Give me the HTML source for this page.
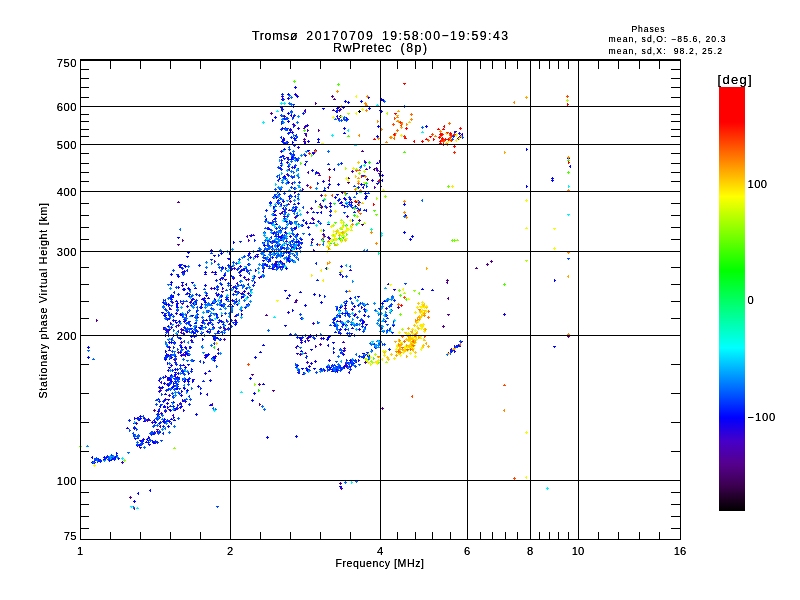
<!DOCTYPE html>
<html><head><meta charset="utf-8"><title>Ionogram</title>
<style>
html,body{margin:0;padding:0;background:#fff;}
body{width:800px;height:600px;overflow:hidden;font-family:"Liberation Sans",sans-serif;}
svg{display:block;}
text{font-family:"Liberation Sans",sans-serif;fill:#000;}
.ln{stroke:#000;stroke-width:1;fill:none;shape-rendering:crispEdges;}
.pt{stroke-width:1;fill:none;shape-rendering:crispEdges;}
</style></head><body>
<svg width="800" height="600" viewBox="0 0 800 600">
<defs><linearGradient id="cb" x1="0" y1="0" x2="0" y2="1">
<stop offset="0" stop-color="#ff0000"/>
<stop offset="0.083" stop-color="#ff0000"/>
<stop offset="0.258" stop-color="#ffff00"/>
<stop offset="0.433" stop-color="#00ff00"/>
<stop offset="0.615" stop-color="#00ffff"/>
<stop offset="0.78" stop-color="#0000ff"/>
<stop offset="0.835" stop-color="#4600c8"/>
<stop offset="0.89" stop-color="#55008c"/>
<stop offset="0.94" stop-color="#3c0050"/>
<stop offset="0.975" stop-color="#19001e"/>
<stop offset="1" stop-color="#000000"/>
</linearGradient><filter id="nf" x="0" y="0" width="800" height="600" filterUnits="userSpaceOnUse"><feComponentTransfer><feFuncA type="linear" slope="1.35" intercept="0"/></feComponentTransfer></filter></defs>
<rect x="0" y="0" width="800" height="600" fill="#fff"/>
<path class="pt" stroke="#000000" d="M358 111.5h3M359.5 110v3"/>
<path class="pt" stroke="#3f0058" d="M328 169.5h3M329.5 168v3M366 179.5h3M367.5 178v3M361 224.5h3M362.5 225v1M374.5 168v3M373 169.5h1M332 110.5h3M333.5 109v1"/>
<path class="pt" stroke="#4a0073" d="M347 182.5h3M348.5 181v3M358 220.5h3M359.5 219v3M340.5 108v3M339 109.5h1M337 107.5h3M338.5 106v3M397 307.5h3M398.5 306v3"/>
<path class="pt" stroke="#55008d" d="M129 497.5h3M130.5 496v3M134.5 507v3M133 508.5h1M96.5 319v3M97 320.5h1M156 429.5h3M157.5 430v1M168 409.5h3M169.5 410v1M212.5 403v3M211 404.5h1M153 410.5h3M154.5 409v3M191.5 300v3M190 301.5h1M196 314.5h3M197.5 313v3M177 202.5h3M178.5 201v1M182.5 239v3M183 240.5h1M177 244.5h3M178.5 245v1M251 374.5h3M252.5 375v1M258 384.5h3M259.5 383v3M259.5 403v3M260 404.5h1M295 300.5h3M296.5 299v3M265 315.5h3M266.5 314v1M272 390.5h3M273.5 391v1M276 267.5h3M277.5 266v3M295 95.5h3M296.5 94v1M270 113.5h3M271.5 112v3M329.5 179v3M328 180.5h1M329 211.5h3M330.5 210v3M325 207.5h3M326.5 208v1M315.5 102v3M316 103.5h1M318.5 129v3M319 130.5h1M331 96.5h3M332.5 95v3M333 99.5h3M334.5 98v1M361 151.5h3M362.5 150v1M490 261.5h3M491.5 260v3M486 264.5h3M487.5 263v3M475 268.5h3M476.5 267v1M567 336.5h3M568.5 335v3M446 280.5h3M447.5 279v3M447.5 281v3M446 282.5h1M448.5 297v3M447 298.5h1M447 314.5h3M448.5 315v1M442 326.5h3M443.5 325v3M381 408.5h3M382.5 407v3M339 483.5h3M340.5 482v3M340 488.5h3M341.5 487v3"/>
<path class="pt" stroke="#4f00a5" d="M112 457.5h3M113.5 456v3M143 418.5h3M144.5 417v3M148 420.5h3M149.5 419v1M133 436.5h3M134.5 435v3M135 423.5h3M136.5 422v3M159 388.5h3M160.5 387v3M173 359.5h3M174.5 358v3M179 403.5h3M180.5 402v3M174 359.5h3M175.5 358v3M169 355.5h3M170.5 354v3M177 352.5h3M178.5 351v3M177 325.5h3M178.5 324v3M187.5 330v3M186 331.5h1M181.5 331v3M180 332.5h1M176 335.5h3M177.5 334v3M163.5 327v3M164 328.5h1M196.5 319v3M195 320.5h1M274 264.5h3M275.5 265v1M219 327.5h3M220.5 326v3M247 279.5h3M248.5 278v3M218.5 348v3M217 349.5h1M286 259.5h3M287.5 260v1M275.5 262v3M274 263.5h1M272.5 220v3M273 221.5h1M289.5 168v3M288 169.5h1M290 249.5h3M291.5 248v1M289 201.5h3M290.5 200v3M283 116.5h3M284.5 115v3M303 141.5h3M304.5 140v3M304.5 127v3M303 128.5h1M303 139.5h3M304.5 138v3M305.5 109v3M304 110.5h1M320 207.5h3M321.5 206v3M322 234.5h3M323.5 233v3M317 173.5h3M318.5 172v1M320 195.5h3M321.5 194v3M320 206.5h3M321.5 205v3M310 208.5h3M311.5 207v3M347 178.5h3M348.5 177v3M357 204.5h3M358.5 203v3M375 168.5h3M376.5 167v3M378 173.5h3M379.5 174v1M338 110.5h3M339.5 109v3M454 131.5h3M455.5 132v1M358 356.5h3M359.5 355v3M306 338.5h3M307.5 337v3M319 344.5h3M320.5 343v3"/>
<path class="pt" stroke="#4900be" d="M115.5 457v3M114 458.5h1M138 419.5h3M139.5 418v3M146 420.5h3M147.5 419v3M186 353.5h3M187.5 352v3M173 409.5h3M174.5 408v3M185 353.5h3M186.5 352v3M159 390.5h3M160.5 389v3M182 354.5h3M183.5 353v3M164 411.5h3M165.5 410v3M160.5 425v3M159 426.5h1M181 272.5h3M182.5 271v3M170 327.5h3M171.5 326v3M177.5 302v3M178 303.5h1M192 299.5h3M193.5 298v1M169 309.5h3M170.5 308v1M181 303.5h3M182.5 304v1M182 333.5h3M183.5 332v1M201 322.5h3M202.5 321v3M210 288.5h3M211.5 287v3M286 249.5h3M287.5 248v1M246 271.5h3M247.5 272v1M241 293.5h3M242.5 292v3M233 268.5h3M234.5 267v3M281.5 252v3M282 253.5h1M217.5 294v3M216 295.5h1M204 355.5h3M205.5 354v3M223 339.5h3M224.5 338v3M224 329.5h3M225.5 330v1M229 304.5h3M230.5 303v3M221 291.5h3M222.5 292v1M248.5 239v3M249 240.5h1M287 204.5h3M288.5 203v1M284.5 263v3M283 264.5h1M279 213.5h3M280.5 214v1M297 245.5h3M298.5 244v3M279 267.5h3M280.5 266v3M286 174.5h3M287.5 173v3M280 160.5h3M281.5 159v3M283 211.5h3M284.5 210v3M295 236.5h3M296.5 237v1M294 228.5h3M295.5 227v3M287 259.5h3M288.5 258v3M294 217.5h3M295.5 216v3M293.5 105v3M292 106.5h1M306.5 134v3M305 135.5h1M307.5 129v3M308 130.5h1M302.5 188v3M303 189.5h1M306 185.5h3M307.5 184v3M312 219.5h3M313.5 218v3M311 218.5h3M312.5 217v1M314 150.5h3M315.5 149v3M318 175.5h3M319.5 174v1M320.5 203v3M319 204.5h1M350 202.5h3M351.5 201v3M365 169.5h3M366.5 168v1M351 171.5h3M352.5 170v3M374.5 186v3M375 187.5h1M379 171.5h3M380.5 170v1M380.5 185v3M381 186.5h1M376 170.5h3M377.5 169v3M337 118.5h3M338.5 119v1M457 138.5h3M458.5 137v3M328 367.5h3M329.5 366v3M297 372.5h3M298.5 371v3M364 362.5h3M365.5 361v3M369.5 354v3M368 355.5h1M345.5 363v3M346 364.5h1M343 366.5h3M344.5 365v1M363 355.5h3M364.5 354v3M340 352.5h3M341.5 351v3M343 348.5h3M344.5 347v3M309 335.5h3M310.5 334v3M344 308.5h3M345.5 307v3M339 333.5h3M340.5 332v3M354 314.5h3M355.5 313v3M299 354.5h3M300.5 353v3M304 353.5h3M305.5 352v1M450 349.5h3M451.5 348v3M294 302.5h3M295.5 301v1"/>
<path class="pt" stroke="#3600d5" d="M114 457.5h3M115.5 458v1M93 462.5h3M94.5 461v3M121 462.5h3M122.5 461v3M161.5 381v3M160 382.5h1M173 376.5h3M174.5 375v1M173.5 414v3M172 415.5h1M160 413.5h3M161.5 412v3M176 408.5h3M177.5 407v3M167 380.5h3M168.5 379v1M167 355.5h3M168.5 354v3M153 443.5h3M154.5 442v1M190 340.5h3M191.5 339v3M164 399.5h3M165.5 398v3M184 401.5h3M185.5 400v3M181.5 405v3M182 406.5h1M177.5 404v3M178 405.5h1M166 384.5h3M167.5 383v3M153 432.5h3M154.5 431v3M163 421.5h3M164.5 420v3M187.5 350v3M188 351.5h1M168 395.5h3M169.5 394v3M180 342.5h3M181.5 341v3M138 445.5h3M139.5 446v1M156 431.5h3M157.5 430v3M151 422.5h3M152.5 421v3M186.5 314v3M185 315.5h1M182 330.5h3M183.5 329v1M166 330.5h3M167.5 329v3M181 285.5h3M182.5 284v3M172.5 301v3M173 302.5h1M190 305.5h3M191.5 304v3M170 301.5h3M171.5 300v3M168.5 331v3M167 332.5h1M194 329.5h3M195.5 330v1M170.5 322v3M171 323.5h1M180 329.5h3M181.5 328v3M196 317.5h3M197.5 316v3M245 279.5h3M246.5 280v1M207 323.5h3M208.5 322v3M272 269.5h3M273.5 268v1M246.5 304v3M247 305.5h1M228 324.5h3M229.5 323v1M224.5 324v3M225 325.5h1M236.5 300v3M237 301.5h1M230 269.5h3M231.5 270v1M240 310.5h3M241.5 309v3M260 276.5h3M261.5 275v3M210.5 330v3M209 331.5h1M226.5 319v3M227 320.5h1M212 327.5h3M213.5 326v3M232 287.5h3M233.5 286v3M221 335.5h3M222.5 334v1M234 320.5h3M235.5 319v3M227 328.5h3M228.5 327v3M234 316.5h3M235.5 315v1M237.5 282v3M236 283.5h1M232 278.5h3M233.5 277v3M258 277.5h3M259.5 278v1M224 279.5h3M225.5 280v1M234 291.5h3M235.5 290v3M272.5 245v3M271 246.5h1M247 293.5h3M248.5 292v3M221.5 314v3M222 315.5h1M231 300.5h3M232.5 299v3M223 328.5h3M224.5 327v1M226 270.5h3M227.5 271v1M247.5 235v3M246 236.5h1M227 258.5h3M228.5 259v1M249 235.5h3M250.5 236v1M211 272.5h3M212.5 271v1M252 235.5h3M253.5 234v1M214.5 260v3M215 261.5h1M285 251.5h3M286.5 250v1M281 228.5h3M282.5 227v1M274 210.5h3M275.5 209v3M292.5 182v3M291 183.5h1M280 151.5h3M281.5 150v3M288 210.5h3M289.5 209v1M288 164.5h3M289.5 163v3M283 216.5h3M284.5 215v3M267.5 264v3M266 265.5h1M281 263.5h3M282.5 262v3M281.5 203v3M280 204.5h1M271 242.5h3M272.5 241v3M280.5 238v3M281 239.5h1M269 223.5h3M270.5 222v1M273 232.5h3M274.5 231v3M276 202.5h3M277.5 201v1M285 241.5h3M286.5 240v1M272 197.5h3M273.5 196v3M289.5 254v3M288 255.5h1M291 247.5h3M292.5 246v3M286 157.5h3M287.5 158v1M294.5 191v3M295 192.5h1M268 246.5h3M269.5 245v1M292 124.5h3M293.5 123v3M293 125.5h3M294.5 124v3M283.5 137v3M284 138.5h1M281 96.5h3M282.5 95v3M304 133.5h3M305.5 134v1M305.5 110v3M304 111.5h1M304 126.5h3M305.5 125v3M328.5 186v3M327 187.5h1M327 237.5h3M328.5 236v1M329 203.5h3M330.5 202v3M308.5 171v3M307 172.5h1M306 212.5h3M307.5 211v3M313.5 249v3M314 250.5h1M311.5 241v3M312 242.5h1M328 238.5h3M329.5 237v3M312 152.5h3M313.5 153v1M304 155.5h3M305.5 154v3M364.5 160v3M365 161.5h1M344 199.5h3M345.5 198v3M354 206.5h3M355.5 205v3M346 216.5h3M347.5 215v3M351.5 201v3M352 202.5h1M379.5 160v3M380 161.5h1M339 109.5h3M340.5 108v3M332 110.5h3M333.5 109v1M324.5 369v3M325 370.5h1M366 354.5h3M367.5 353v1M349 366.5h3M350.5 367v1M362 356.5h3M363.5 355v3M345 365.5h3M346.5 366v1M347.5 366v3M346 367.5h1M344.5 349v3M345 350.5h1M296.5 346v3M295 347.5h1M309 336.5h3M310.5 335v3M300 340.5h3M301.5 339v3M320 338.5h3M321.5 337v3M307 340.5h3M308.5 341v1M361.5 306v3M362 307.5h1M340 306.5h3M341.5 305v3M338.5 331v3M339 332.5h1M351 309.5h3M352.5 308v3M339 321.5h3M340.5 320v3M315.5 345v3M316 346.5h1M306 362.5h3M307.5 361v3M342 342.5h3M343.5 341v1M450 351.5h3M451.5 350v3M454.5 345v3M455 346.5h1M456 346.5h3M457.5 345v3M312 323.5h3M313.5 322v3"/>
<path class="pt" stroke="#1900eb" d="M106.5 456v3M107 457.5h1M109.5 459v3M110 460.5h1M114 457.5h3M115.5 456v3M110 459.5h3M111.5 458v3M137 418.5h3M138.5 417v1M143 421.5h3M144.5 420v1M136 418.5h3M137.5 417v3M147 419.5h3M148.5 418v3M134.5 417v3M135 418.5h1M139 440.5h3M140.5 441v1M126 428.5h3M127.5 427v1M134 438.5h3M135.5 439v1M139 447.5h3M140.5 448v1M133 428.5h3M134.5 427v3M158 417.5h3M159.5 416v3M165.5 375v3M166 376.5h1M169.5 357v3M170 358.5h1M181.5 390v3M182 391.5h1M182.5 399v3M183 400.5h1M180 355.5h3M181.5 354v3M172 402.5h3M173.5 401v3M168 421.5h3M169.5 420v3M182 365.5h3M183.5 364v1M167.5 377v3M168 378.5h1M168.5 369v3M167 370.5h1M192 379.5h3M193.5 380v1M177 373.5h3M178.5 372v3M158.5 416v3M157 417.5h1M159.5 378v3M160 379.5h1M173 342.5h3M174.5 341v3M182 400.5h3M183.5 401v1M159.5 379v3M158 380.5h1M166.5 353v3M167 354.5h1M174 409.5h3M175.5 408v3M183.5 409v3M184 410.5h1M157 411.5h3M158.5 410v3M183 381.5h3M184.5 380v3M185.5 354v3M184 355.5h1M159.5 390v3M158 391.5h1M168 342.5h3M169.5 341v3M184 367.5h3M185.5 366v3M168 350.5h3M169.5 349v1M175 379.5h3M176.5 378v1M169 370.5h3M170.5 369v1M176 386.5h3M177.5 385v1M170 381.5h3M171.5 380v3M184 352.5h3M185.5 351v3M184 347.5h3M185.5 346v3M167.5 362v3M168 363.5h1M176 377.5h3M177.5 376v1M170 365.5h3M171.5 364v3M168 347.5h3M169.5 346v3M148.5 436v3M149 437.5h1M148 444.5h3M149.5 445v1M142 439.5h3M143.5 438v3M177 418.5h3M178.5 417v3M166 403.5h3M167.5 402v3M163 407.5h3M164.5 406v1M204 373.5h3M205.5 372v3M207.5 393v3M206 394.5h1M214 356.5h3M215.5 355v3M169.5 314v3M170 315.5h1M168 315.5h3M169.5 316v1M169.5 307v3M170 308.5h1M188 289.5h3M189.5 288v3M197.5 306v3M196 307.5h1M178.5 286v3M179 287.5h1M184 319.5h3M185.5 318v3M183 271.5h3M184.5 270v3M167 335.5h3M168.5 334v1M180.5 322v3M179 323.5h1M186 293.5h3M187.5 292v3M194.5 303v3M195 304.5h1M175 313.5h3M176.5 312v3M194 327.5h3M195.5 326v3M178 265.5h3M179.5 264v3M189 316.5h3M190.5 315v1M196.5 302v3M195 303.5h1M167 304.5h3M168.5 303v3M167 326.5h3M168.5 325v3M189 325.5h3M190.5 326v1M189 302.5h3M190.5 303v1M183 321.5h3M184.5 320v3M186 306.5h3M187.5 305v3M165 318.5h3M166.5 317v1M164 329.5h3M165.5 328v3M172 335.5h3M173.5 334v3M168 329.5h3M169.5 328v3M185 331.5h3M186.5 330v3M163 327.5h3M164.5 328v1M179 314.5h3M180.5 313v3M201 299.5h3M202.5 298v1M200 333.5h3M201.5 332v3M195.5 301v3M194 302.5h1M201.5 303v3M202 304.5h1M223 275.5h3M224.5 274v1M206 331.5h3M207.5 330v3M220 305.5h3M221.5 304v3M272.5 256v3M273 257.5h1M247 305.5h3M248.5 304v3M226 299.5h3M227.5 298v1M210.5 319v3M209 320.5h1M222.5 287v3M223 288.5h1M273 241.5h3M274.5 240v3M211 303.5h3M212.5 302v1M279 261.5h3M280.5 260v3M283 252.5h3M284.5 253v1M243 291.5h3M244.5 290v3M203 298.5h3M204.5 297v3M207 311.5h3M208.5 310v3M208 316.5h3M209.5 315v3M239 271.5h3M240.5 270v3M262 260.5h3M263.5 261v1M221 278.5h3M222.5 279v1M220.5 278v3M219 279.5h1M222 324.5h3M223.5 323v1M239 266.5h3M240.5 265v3M207 311.5h3M208.5 312v1M240 270.5h3M241.5 269v3M254 256.5h3M255.5 255v3M278.5 233v3M277 234.5h1M247 304.5h3M248.5 303v3M274.5 250v3M273 251.5h1M287 258.5h3M288.5 257v3M287 252.5h3M288.5 251v3M286 244.5h3M287.5 245v1M290.5 249v3M291 250.5h1M240 293.5h3M241.5 294v1M239 275.5h3M240.5 274v3M254.5 281v3M255 282.5h1M223 332.5h3M224.5 333v1M276 268.5h3M277.5 267v3M256 256.5h3M257.5 255v3M248 253.5h3M249.5 252v3M275 261.5h3M276.5 262v1M204 302.5h3M205.5 301v3M214 274.5h3M215.5 273v1M216 333.5h3M217.5 332v1M217 353.5h3M218.5 352v3M214.5 342v3M213 343.5h1M212 357.5h3M213.5 356v3M213 339.5h3M214.5 340v1M243 277.5h3M244.5 276v3M220 321.5h3M221.5 320v3M221.5 299v3M220 300.5h1M210 250.5h3M211.5 249v1M204 274.5h3M205.5 273v1M295 159.5h3M296.5 158v3M289 245.5h3M290.5 244v3M296 234.5h3M297.5 233v3M280 160.5h3M281.5 159v1M262 242.5h3M263.5 243v1M295 248.5h3M296.5 247v3M276.5 263v3M277 264.5h1M281 266.5h3M282.5 267v1M264 264.5h3M265.5 263v3M274.5 265v3M275 266.5h1M289 223.5h3M290.5 222v3M289 236.5h3M290.5 235v3M285 221.5h3M286.5 220v3M273 219.5h3M274.5 218v1M291 210.5h3M292.5 209v3M267 228.5h3M268.5 227v3M296.5 226v3M295 227.5h1M294 245.5h3M295.5 244v3M275 197.5h3M276.5 196v3M279 237.5h3M280.5 236v3M282 201.5h3M283.5 200v3M286 162.5h3M287.5 161v3M289.5 197v3M290 198.5h1M273 211.5h3M274.5 210v3M296 215.5h3M297.5 214v3M274.5 209v3M275 210.5h1M282.5 211v3M281 212.5h1M272 233.5h3M273.5 232v3M293 167.5h3M294.5 166v3M280 165.5h3M281.5 166v1M274 215.5h3M275.5 214v1M269 241.5h3M270.5 242v1M264 258.5h3M265.5 257v3M291.5 114v3M290 115.5h1M286 142.5h3M287.5 141v3M289 129.5h3M290.5 128v3M283 143.5h3M284.5 142v3M291 132.5h3M292.5 131v3M289 130.5h3M290.5 129v3M293.5 115v3M294 116.5h1M284 128.5h3M285.5 127v3M281 128.5h3M282.5 127v3M297 147.5h3M298.5 146v3M297 128.5h3M298.5 127v3M281 141.5h3M282.5 140v1M280 107.5h3M281.5 108v1M281 99.5h3M282.5 98v3M287 98.5h3M288.5 97v3M294 94.5h3M295.5 93v3M306 125.5h3M307.5 124v3M307 141.5h3M308.5 140v3M305.5 142v3M304 143.5h1M309 223.5h3M310.5 222v1M311 239.5h3M312.5 238v3M305 223.5h3M306.5 224v1M322 181.5h3M323.5 180v3M366.5 209v3M365 210.5h1M364 162.5h3M365.5 161v3M363.5 186v3M362 187.5h1M357 210.5h3M358.5 209v3M341 192.5h3M342.5 191v3M349 199.5h3M350.5 198v3M340 202.5h3M341.5 201v3M339 203.5h3M340.5 202v1M371 180.5h3M372.5 179v3M376 183.5h3M377.5 184v1M376 163.5h3M377.5 162v1M382.5 174v3M383 175.5h1M379 175.5h3M380.5 174v3M339 116.5h3M340.5 115v3M342 107.5h3M343.5 106v3M346.5 117v3M347 118.5h1M462.5 133v3M461 134.5h1M458 133.5h3M459.5 132v3M459 136.5h3M460.5 135v3M503 314.5h3M504.5 313v3M308 366.5h3M309.5 365v3M320 369.5h3M321.5 368v3M302 374.5h3M303.5 373v1M349 360.5h3M350.5 359v1M337.5 370v3M336 371.5h1M349.5 371v3M348 372.5h1M358 356.5h3M359.5 355v1M349 363.5h3M350.5 362v1M358.5 359v3M359 360.5h1M342 368.5h3M343.5 367v1M337.5 366v3M338 367.5h1M296 353.5h3M297.5 354v1M296 346.5h3M297.5 345v1M300 342.5h3M301.5 343v1M315 335.5h3M316.5 334v3M307 337.5h3M308.5 336v3M362 321.5h3M363.5 322v1M365 324.5h3M366.5 325v1M339 329.5h3M340.5 328v3M362 322.5h3M363.5 321v3M345.5 312v3M344 313.5h1M336 321.5h3M337.5 320v1M351 328.5h3M352.5 327v1M358 329.5h3M359.5 328v3M350 333.5h3M351.5 334v1M346 313.5h3M347.5 312v3M342 324.5h3M343.5 323v3M340.5 315v3M339 316.5h1M361 320.5h3M362.5 319v3M328 360.5h3M329.5 359v3M314 361.5h3M315.5 360v3M342 350.5h3M343.5 351v1M310 363.5h3M311.5 362v3M392 325.5h3M393.5 326v1M385 308.5h3M386.5 307v3M393 289.5h3M394.5 290v1M387 284.5h3M388.5 283v1M454.5 350v3M455 351.5h1M460 341.5h3M461.5 342v1M287 312.5h3M288.5 311v3M349 270.5h3M350.5 269v1M339 274.5h3M340.5 275v1"/>
<path class="pt" stroke="#0003ff" d="M116.5 452v3M117 453.5h1M111.5 455v3M112 456.5h1M92.5 461v3M91 462.5h1M110 459.5h3M111.5 458v3M108 460.5h3M109.5 459v3M103 457.5h3M104.5 456v3M99 460.5h3M100.5 459v1M117 458.5h3M118.5 457v3M112 458.5h3M113.5 457v3M92.5 456v3M91 457.5h1M104 457.5h3M105.5 458v1M113.5 455v3M114 456.5h1M98 460.5h3M99.5 459v3M103 459.5h3M104.5 458v3M103 457.5h3M104.5 456v3M133 501.5h3M134.5 500v3M138.5 492v3M137 493.5h1M150.5 489v3M149 490.5h1M195 414.5h3M196.5 415v1M87 347.5h3M88.5 346v3M87 357.5h3M88.5 356v3M139 416.5h3M140.5 415v3M138 419.5h3M139.5 420v1M139.5 418v3M140 419.5h1M139 418.5h3M140.5 417v3M133 423.5h3M134.5 422v1M140.5 443v3M139 444.5h1M169 379.5h3M170.5 378v3M170 419.5h3M171.5 418v1M171 387.5h3M172.5 386v3M153.5 432v3M152 433.5h1M163 419.5h3M164.5 418v3M164 359.5h3M165.5 360v1M152.5 440v3M153 441.5h1M158 387.5h3M159.5 386v3M173 420.5h3M174.5 419v1M188.5 372v3M189 373.5h1M173.5 382v3M174 383.5h1M147.5 438v3M146 439.5h1M152 442.5h3M153.5 441v3M167 385.5h3M168.5 384v3M175.5 368v3M174 369.5h1M184 347.5h3M185.5 346v1M183 388.5h3M184.5 387v3M167 399.5h3M168.5 400v1M170 339.5h3M171.5 340v1M165.5 350v3M166 351.5h1M189 347.5h3M190.5 346v3M173 409.5h3M174.5 408v3M174 372.5h3M175.5 373v1M179 407.5h3M180.5 406v3M186 390.5h3M187.5 389v3M161 387.5h3M162.5 386v3M180.5 351v3M181 352.5h1M170 357.5h3M171.5 356v3M181 371.5h3M182.5 370v3M176 388.5h3M177.5 387v3M173 354.5h3M174.5 353v3M171 402.5h3M172.5 403v1M180 395.5h3M181.5 394v3M173 342.5h3M174.5 341v1M186.5 347v3M185 348.5h1M169 377.5h3M170.5 376v3M164.5 399v3M165 400.5h1M187 364.5h3M188.5 365v1M187 355.5h3M188.5 354v1M158 432.5h3M159.5 431v3M167.5 406v3M168 407.5h1M186 353.5h3M187.5 352v3M184.5 386v3M183 387.5h1M167 426.5h3M168.5 425v3M192.5 380v3M193 381.5h1M167 378.5h3M168.5 377v3M169 410.5h3M170.5 409v3M163 383.5h3M164.5 382v3M191.5 368v3M192 369.5h1M187 381.5h3M188.5 380v3M160.5 405v3M159 406.5h1M180 350.5h3M181.5 351v1M186 379.5h3M187.5 380v1M176 379.5h3M177.5 380v1M174 374.5h3M175.5 373v3M174 389.5h3M175.5 388v1M180 347.5h3M181.5 346v3M172 386.5h3M173.5 385v3M164 394.5h3M165.5 393v1M170 342.5h3M171.5 341v3M168 367.5h3M169.5 368v1M165 355.5h3M166.5 354v3M179 338.5h3M180.5 337v3M171.5 374v3M170 375.5h1M145 442.5h3M146.5 441v1M136 445.5h3M137.5 444v3M154.5 419v3M153 420.5h1M163 406.5h3M164.5 405v3M157 416.5h3M158.5 415v3M173.5 416v3M174 417.5h1M162 421.5h3M163.5 420v3M154 422.5h3M155.5 421v3M209 405.5h3M210.5 404v1M200.5 392v3M201 393.5h1M208 371.5h3M209.5 370v1M209 380.5h3M210.5 379v3M197 386.5h3M198.5 385v3M213 360.5h3M214.5 359v3M165 304.5h3M166.5 303v3M167 298.5h3M168.5 297v1M181 315.5h3M182.5 314v3M168 318.5h3M169.5 319v1M164 315.5h3M165.5 314v3M181 282.5h3M182.5 283v1M163 315.5h3M164.5 314v3M187 288.5h3M188.5 287v1M177 276.5h3M178.5 275v3M183 289.5h3M184.5 288v3M191 331.5h3M192.5 330v3M186.5 283v3M185 284.5h1M172 320.5h3M173.5 319v3M161 312.5h3M162.5 313v1M165.5 334v3M166 335.5h1M175 301.5h3M176.5 300v1M170 274.5h3M171.5 273v3M175 301.5h3M176.5 300v1M174 320.5h3M175.5 321v1M171.5 283v3M170 284.5h1M166.5 331v3M167 332.5h1M173.5 295v3M172 296.5h1M189.5 293v3M190 294.5h1M170 282.5h3M171.5 281v3M178 321.5h3M179.5 320v3M183.5 288v3M182 289.5h1M193.5 332v3M194 333.5h1M188 296.5h3M189.5 295v1M183 265.5h3M184.5 266v1M194 288.5h3M195.5 287v1M184 266.5h3M185.5 265v3M191 282.5h3M192.5 283v1M179 267.5h3M180.5 266v1M170 297.5h3M171.5 296v3M166 319.5h3M167.5 318v3M176 303.5h3M177.5 302v3M176 307.5h3M177.5 306v3M192 303.5h3M193.5 302v3M175 322.5h3M176.5 323v1M191 315.5h3M192.5 316v1M194 323.5h3M195.5 322v1M162 302.5h3M163.5 301v1M168.5 304v3M169 305.5h1M179 314.5h3M180.5 313v3M181.5 306v3M182 307.5h1M191 299.5h3M192.5 298v3M193 336.5h3M194.5 335v3M176.5 304v3M177 305.5h1M190 336.5h3M191.5 335v3M177 237.5h3M178.5 238v1M187 252.5h3M188.5 251v3M186 256.5h3M187.5 257v1M205 295.5h3M206.5 294v3M200 307.5h3M201.5 306v3M204 272.5h3M205.5 271v3M200 325.5h3M201.5 326v1M196.5 310v3M197 311.5h1M198 327.5h3M199.5 328v1M201 332.5h3M202.5 333v1M199 328.5h3M200.5 329v1M282 237.5h3M283.5 236v3M281 255.5h3M282.5 256v1M221 267.5h3M222.5 266v1M280 248.5h3M281.5 249v1M231 266.5h3M232.5 265v1M207 298.5h3M208.5 297v1M205 320.5h3M206.5 319v1M237 292.5h3M238.5 291v3M236 304.5h3M237.5 303v3M226.5 298v3M225 299.5h1M214 301.5h3M215.5 300v3M244.5 268v3M243 269.5h1M272.5 267v3M271 268.5h1M234 324.5h3M235.5 323v3M258 264.5h3M259.5 263v3M255.5 269v3M256 270.5h1M216.5 313v3M217 314.5h1M247 264.5h3M248.5 263v3M213 314.5h3M214.5 313v3M268 259.5h3M269.5 258v3M217 331.5h3M218.5 330v3M217 294.5h3M218.5 293v3M214.5 298v3M215 299.5h1M275 265.5h3M276.5 264v3M241.5 296v3M242 297.5h1M213 288.5h3M214.5 287v3M241.5 313v3M242 314.5h1M277 236.5h3M278.5 237v1M203 300.5h3M204.5 299v3M249 257.5h3M250.5 256v3M288 256.5h3M289.5 255v3M256 254.5h3M257.5 255v1M263.5 270v3M262 271.5h1M214 272.5h3M215.5 271v3M207 354.5h3M208.5 353v3M213 338.5h3M214.5 339v1M205 355.5h3M206.5 354v1M204 357.5h3M205.5 358v1M205 355.5h3M206.5 354v1M202.5 338v3M203 339.5h1M216 338.5h3M217.5 337v1M219 339.5h3M220.5 338v3M212 357.5h3M213.5 356v1M213 358.5h3M214.5 357v3M206.5 355v3M207 356.5h1M211 358.5h3M212.5 357v3M223 275.5h3M224.5 274v3M239.5 271v3M238 272.5h1M220 305.5h3M221.5 304v3M243.5 295v3M242 296.5h1M231 306.5h3M232.5 305v3M216 317.5h3M217.5 316v3M229.5 252v3M230 253.5h1M233.5 241v3M234 242.5h1M220 253.5h3M221.5 252v3M213 255.5h3M214.5 256v1M251.5 234v3M252 235.5h1M228 258.5h3M229.5 259v1M204 285.5h3M205.5 284v3M249 378.5h3M250.5 377v3M253 393.5h3M254.5 392v3M251 400.5h3M252.5 399v3M259 352.5h3M260.5 351v1M254 357.5h3M255.5 356v3M262 345.5h3M263.5 344v1M284 290.5h3M285.5 291v1M286 298.5h3M287.5 297v1M292.5 309v3M293 310.5h1M299 292.5h3M300.5 291v1M304 305.5h3M305.5 304v3M196.5 413v3M195 414.5h1M262 384.5h3M263.5 383v1M289.5 195v3M288 196.5h1M269 202.5h3M270.5 201v3M287 259.5h3M288.5 260v1M283 176.5h3M284.5 175v3M281.5 236v3M282 237.5h1M290 159.5h3M291.5 158v1M284 232.5h3M285.5 231v3M297 203.5h3M298.5 202v3M294 158.5h3M295.5 157v3M272 214.5h3M273.5 213v3M281 247.5h3M282.5 246v3M280 163.5h3M281.5 162v3M281 235.5h3M282.5 234v3M285 268.5h3M286.5 267v3M275 224.5h3M276.5 223v1M274.5 195v3M275 196.5h1M266.5 218v3M265 219.5h1M292.5 240v3M291 241.5h1M279 157.5h3M280.5 156v1M280 240.5h3M281.5 239v1M295 242.5h3M296.5 241v3M275.5 264v3M276 265.5h1M293 188.5h3M294.5 187v3M297 241.5h3M298.5 240v3M263 245.5h3M264.5 246v1M271 223.5h3M272.5 224v1M283.5 207v3M282 208.5h1M263 245.5h3M264.5 244v3M279 168.5h3M280.5 167v3M268 229.5h3M269.5 228v1M287 182.5h3M288.5 181v3M298.5 197v3M297 198.5h1M300 239.5h3M301.5 238v3M296.5 158v3M297 159.5h1M292.5 156v3M291 157.5h1M273.5 206v3M274 207.5h1M293 228.5h3M294.5 227v3M281 156.5h3M282.5 155v1M288 261.5h3M289.5 260v3M301 225.5h3M302.5 224v3M262 264.5h3M263.5 263v3M279.5 177v3M280 178.5h1M294 209.5h3M295.5 208v3M277 203.5h3M278.5 202v3M277.5 245v3M278 246.5h1M282 140.5h3M283.5 139v3M287 113.5h3M288.5 112v3M296.5 134v3M295 135.5h1M292.5 141v3M293 142.5h1M282 139.5h3M283.5 138v3M287 121.5h3M288.5 120v3M290 137.5h3M291.5 136v3M282 140.5h3M283.5 139v3M283 149.5h3M284.5 148v1M293 138.5h3M294.5 137v3M289 132.5h3M290.5 131v1M281 109.5h3M282.5 108v3M296 96.5h3M297.5 95v3M294 87.5h3M295.5 86v3M287 94.5h3M288.5 93v3M272.5 119v3M273 120.5h1M274 117.5h3M275.5 116v3M312 153.5h3M313.5 154v1M315 172.5h3M316.5 171v3M312 223.5h3M313.5 222v1M307 227.5h3M308.5 226v3M328 184.5h3M329.5 183v3M306.5 221v3M305 222.5h1M327 224.5h3M328.5 223v1M323 190.5h3M324.5 189v3M321.5 211v3M320 212.5h1M316 212.5h3M317.5 213v1M311 170.5h3M312.5 169v3M307 150.5h3M308.5 151v1M305.5 163v3M304 164.5h1M364 193.5h3M365.5 192v3M364 198.5h3M365.5 197v3M334 197.5h3M335.5 196v3M365 196.5h3M366.5 195v3M341 205.5h3M342.5 204v1M334.5 168v3M333 169.5h1M360 184.5h3M361.5 183v3M337 184.5h3M338.5 183v3M355 201.5h3M356.5 202v1M344.5 205v3M345 206.5h1M350 205.5h3M351.5 204v3M336 194.5h3M337.5 195v1M343 198.5h3M344.5 197v3M329 206.5h3M330.5 205v3M337.5 115v3M336 116.5h1M336 108.5h3M337.5 107v3M336.5 110v3M335 111.5h1M322 108.5h3M323.5 109v1M317 139.5h3M318.5 138v3M317 142.5h3M318.5 141v1M344 101.5h3M345.5 100v3M347 102.5h3M348.5 101v3M367 97.5h3M368.5 96v3M360 101.5h3M361.5 100v3M368 108.5h3M369.5 107v3M343 128.5h3M344.5 127v3M343 133.5h3M344.5 132v1M380 99.5h3M381.5 98v3M382 100.5h3M383.5 99v3M379 110.5h3M380.5 111v1M380 111.5h3M381.5 110v3M377 126.5h3M378.5 125v3M376 136.5h3M377.5 135v3M425 126.5h3M426.5 125v3M403 204.5h3M404.5 203v3M404 215.5h3M405.5 214v3M382.5 179v3M381 180.5h1M526.5 148v3M527 149.5h1M567 158.5h3M568.5 157v3M570.5 165v3M569 166.5h1M551 180.5h3M552.5 179v3M551 178.5h3M552.5 177v1M526.5 185v3M527 186.5h1M554.5 279v3M555 280.5h1M553 346.5h3M554.5 347v1M403 232.5h3M404.5 231v3M411 236.5h3M412.5 235v3M409 239.5h3M410.5 238v3M421 289.5h3M422.5 288v1M431 290.5h3M432.5 289v1M339 486.5h3M340.5 487v1M295 436.5h3M296.5 435v3M266 437.5h3M267.5 436v3M313 368.5h3M314.5 369v1M303.5 372v3M304 373.5h1M306 370.5h3M307.5 369v3M301 368.5h3M302.5 369v1M330.5 367v3M329 368.5h1M315 372.5h3M316.5 373v1M306 369.5h3M307.5 368v3M335.5 369v3M334 370.5h1M335 368.5h3M336.5 367v3M343 366.5h3M344.5 365v3M331 371.5h3M332.5 370v1M331 369.5h3M332.5 368v3M367 355.5h3M368.5 354v3M356.5 360v3M355 361.5h1M351.5 360v3M350 361.5h1M334.5 369v3M335 370.5h1M362 353.5h3M363.5 354v1M352 363.5h3M353.5 362v3M331.5 365v3M332 366.5h1M347 363.5h3M348.5 362v3M340 369.5h3M341.5 368v3M337 368.5h3M338.5 367v3M331 365.5h3M332.5 364v3M335.5 365v3M336 366.5h1M296 365.5h3M297.5 366v1M326 339.5h3M327.5 338v3M327 337.5h3M328.5 336v3M328 336.5h3M329.5 335v3M299 338.5h3M300.5 339v1M305.5 340v3M304 341.5h1M322 338.5h3M323.5 337v3M310.5 334v3M311 335.5h1M298 337.5h3M299.5 338v1M364.5 328v3M363 329.5h1M349 298.5h3M350.5 297v3M353 306.5h3M354.5 305v3M363 315.5h3M364.5 314v3M339 307.5h3M340.5 306v3M361 323.5h3M362.5 322v3M336 315.5h3M337.5 314v3M337.5 306v3M336 307.5h1M357 296.5h3M358.5 297v1M363 309.5h3M364.5 308v3M345 325.5h3M346.5 324v3M335.5 323v3M334 324.5h1M352 324.5h3M353.5 323v3M344 305.5h3M345.5 304v3M344 329.5h3M345.5 328v3M354.5 314v3M353 315.5h1M334.5 318v3M335 319.5h1M344 303.5h3M345.5 304v1M310 349.5h3M311.5 350v1M332 342.5h3M333.5 343v1M328.5 344v3M327 345.5h1M342 354.5h3M343.5 353v3M338.5 355v3M339 356.5h1M333.5 351v3M334 352.5h1M300 351.5h3M301.5 350v1M383 301.5h3M384.5 300v1M385 315.5h3M386.5 314v3M381 303.5h3M382.5 302v3M374 347.5h3M375.5 346v3M458 346.5h3M459.5 345v1M447 353.5h3M448.5 352v3M456 345.5h3M457.5 346v1M459 341.5h3M460.5 342v1M319.5 294v3M320 295.5h1M284 325.5h3M285.5 326v1M300 318.5h3M301.5 317v3M313 294.5h3M314.5 293v3M288 295.5h3M289.5 294v3M320 302.5h3M321.5 301v3M340 266.5h3M341.5 265v3M342.5 275v3M343 276.5h1"/>
<path class="pt" stroke="#0026ff" d="M116.5 454v3M117 455.5h1M100.5 460v3M101 461.5h1M111.5 454v3M112 455.5h1M94 459.5h3M95.5 458v3M99 460.5h3M100.5 459v3M97.5 460v3M98 461.5h1M105.5 457v3M106 458.5h1M106 456.5h3M107.5 455v1M113 459.5h3M114.5 458v3M104 458.5h3M105.5 457v1M97 459.5h3M98.5 458v3M137 418.5h3M138.5 419v1M137 419.5h3M138.5 420v1M133 435.5h3M134.5 434v3M128 420.5h3M129.5 419v3M133 427.5h3M134.5 426v3M142.5 442v3M143 443.5h1M162 377.5h3M163.5 376v3M184 379.5h3M185.5 378v3M188 378.5h3M189.5 377v3M191 342.5h3M192.5 341v1M158.5 413v3M159 414.5h1M162 401.5h3M163.5 402v1M148 440.5h3M149.5 439v1M157.5 413v3M156 414.5h1M183 374.5h3M184.5 373v3M173.5 395v3M172 396.5h1M170 355.5h3M171.5 354v3M156 442.5h3M157.5 441v3M184.5 399v3M183 400.5h1M188 404.5h3M189.5 403v3M154 441.5h3M155.5 440v3M174 356.5h3M175.5 355v3M171 370.5h3M172.5 369v3M179.5 377v3M178 378.5h1M164 358.5h3M165.5 357v1M154.5 432v3M155 433.5h1M163.5 432v3M162 433.5h1M183 378.5h3M184.5 377v3M175 364.5h3M176.5 363v3M190 371.5h3M191.5 370v3M159.5 408v3M158 409.5h1M173 385.5h3M174.5 386v1M179 365.5h3M180.5 364v3M173.5 346v3M174 347.5h1M192 360.5h3M193.5 361v1M162 401.5h3M163.5 400v3M150 434.5h3M151.5 433v3M157 399.5h3M158.5 398v1M158 401.5h3M159.5 400v3M189.5 346v3M190 347.5h1M164 357.5h3M165.5 356v3M179 404.5h3M180.5 403v1M176 369.5h3M177.5 368v3M165 390.5h3M166.5 389v3M176 384.5h3M177.5 383v3M177.5 406v3M176 407.5h1M173 378.5h3M174.5 379v1M182.5 369v3M181 370.5h1M168 383.5h3M169.5 382v3M174 378.5h3M175.5 377v3M167 389.5h3M168.5 388v3M174 362.5h3M175.5 361v3M179 373.5h3M180.5 374v1M178 393.5h3M179.5 392v3M179 345.5h3M180.5 344v3M167.5 355v3M166 356.5h1M174 381.5h3M175.5 382v1M136 438.5h3M137.5 437v1M148.5 441v3M149 442.5h1M149.5 438v3M150 439.5h1M141 441.5h3M142.5 440v3M165 421.5h3M166.5 420v3M172 406.5h3M173.5 405v3M171.5 422v3M170 423.5h1M159 422.5h3M160.5 421v3M158 423.5h3M159.5 422v3M162 426.5h3M163.5 425v3M169 406.5h3M170.5 405v1M164 423.5h3M165.5 422v1M164 410.5h3M165.5 409v3M200.5 387v3M201 388.5h1M202 381.5h3M203.5 380v1M190 296.5h3M191.5 295v3M170 299.5h3M171.5 300v1M187 322.5h3M188.5 321v3M195 316.5h3M196.5 315v1M183 327.5h3M184.5 326v3M164 309.5h3M165.5 308v1M177 294.5h3M178.5 293v3M190 328.5h3M191.5 329v1M170 314.5h3M171.5 313v3M176.5 325v3M175 326.5h1M194 303.5h3M195.5 302v3M170 295.5h3M171.5 294v3M169 297.5h3M170.5 296v3M174.5 291v3M173 292.5h1M187.5 269v3M186 270.5h1M166 319.5h3M167.5 318v3M186.5 318v3M185 319.5h1M185 294.5h3M186.5 293v1M176 310.5h3M177.5 309v3M185 328.5h3M186.5 329v1M176 274.5h3M177.5 275v1M182 273.5h3M183.5 272v3M195 294.5h3M196.5 293v3M187.5 311v3M188 312.5h1M165.5 299v3M164 300.5h1M181 268.5h3M182.5 267v3M180 264.5h3M181.5 265v1M183 319.5h3M184.5 318v3M180.5 300v3M181 301.5h1M164 313.5h3M165.5 314v1M163.5 299v3M164 300.5h1M163 303.5h3M164.5 304v1M178.5 330v3M177 331.5h1M188 321.5h3M189.5 322v1M167 335.5h3M168.5 334v3M193 302.5h3M194.5 301v3M183.5 333v3M184 334.5h1M196.5 321v3M195 322.5h1M170 301.5h3M171.5 300v3M198 265.5h3M199.5 264v3M198 295.5h3M199.5 294v3M196 314.5h3M197.5 313v3M195 330.5h3M196.5 329v1M196 331.5h3M197.5 330v3M199 307.5h3M200.5 306v3M195 320.5h3M196.5 319v3M195.5 331v3M194 332.5h1M204.5 299v3M205 300.5h1M194 326.5h3M195.5 327v1M208.5 323v3M207 324.5h1M213 302.5h3M214.5 301v3M217 333.5h3M218.5 332v1M232 322.5h3M233.5 323v1M221 268.5h3M222.5 267v3M235 322.5h3M236.5 321v3M268 268.5h3M269.5 267v1M230 268.5h3M231.5 267v3M216 317.5h3M217.5 316v3M229 289.5h3M230.5 288v1M246.5 267v3M245 268.5h1M204 327.5h3M205.5 326v3M221 277.5h3M222.5 278v1M223.5 326v3M224 327.5h1M220 284.5h3M221.5 283v3M257 250.5h3M258.5 251v1M277 266.5h3M278.5 265v3M232 277.5h3M233.5 276v1M252 285.5h3M253.5 284v3M211 320.5h3M212.5 319v1M225.5 267v3M226 268.5h1M220 295.5h3M221.5 294v3M235 288.5h3M236.5 287v3M216 289.5h3M217.5 288v3M264 258.5h3M265.5 257v3M209 322.5h3M210.5 321v3M230 276.5h3M231.5 275v1M239.5 271v3M238 272.5h1M202 322.5h3M203.5 321v3M269 252.5h3M270.5 251v1M216.5 292v3M215 293.5h1M218 320.5h3M219.5 319v3M236.5 314v3M237 315.5h1M270.5 253v3M271 254.5h1M246.5 287v3M245 288.5h1M230 320.5h3M231.5 319v3M253 276.5h3M254.5 275v3M202 320.5h3M203.5 319v1M232 294.5h3M233.5 293v3M249 295.5h3M250.5 294v3M285 252.5h3M286.5 253v1M278.5 263v3M279 264.5h1M243.5 285v3M244 286.5h1M271.5 236v3M270 237.5h1M247 255.5h3M248.5 254v3M216 286.5h3M217.5 285v1M276 252.5h3M277.5 251v3M220 296.5h3M221.5 295v3M206.5 292v3M207 293.5h1M244 307.5h3M245.5 308v1M242 294.5h3M243.5 295v1M217 322.5h3M218.5 323v1M200.5 360v3M199 361.5h1M214 337.5h3M215.5 336v3M215.5 338v3M214 339.5h1M203.5 361v3M204 362.5h1M212 336.5h3M213.5 335v3M226 297.5h3M227.5 296v3M234 286.5h3M235.5 285v3M235.5 301v3M234 302.5h1M229 285.5h3M230.5 284v1M240 285.5h3M241.5 284v1M243.5 268v3M242 269.5h1M236 269.5h3M237.5 268v3M227 283.5h3M228.5 282v3M222 304.5h3M223.5 303v3M248.5 283v3M247 284.5h1M222 251.5h3M223.5 252v1M239 241.5h3M240.5 242v1M254.5 239v3M255 240.5h1M210 259.5h3M211.5 260v1M227 265.5h3M228.5 264v3M215 280.5h3M216.5 279v3M218.5 254v3M219 255.5h1M301.5 242v3M302 243.5h1M278 194.5h3M279.5 193v3M267.5 239v3M268 240.5h1M284 228.5h3M285.5 227v3M295 207.5h3M296.5 206v3M279 157.5h3M280.5 156v1M291 177.5h3M292.5 176v3M276 241.5h3M277.5 242v1M265 265.5h3M266.5 264v3M298.5 168v3M297 169.5h1M277 200.5h3M278.5 199v3M277.5 254v3M276 255.5h1M271 249.5h3M272.5 248v3M294 207.5h3M295.5 206v1M295.5 195v3M294 196.5h1M275 242.5h3M276.5 241v3M274 236.5h3M275.5 235v1M262 268.5h3M263.5 269v1M274 218.5h3M275.5 217v3M289 153.5h3M290.5 152v3M264.5 249v3M263 250.5h1M284 178.5h3M285.5 177v3M263 255.5h3M264.5 254v1M266 249.5h3M267.5 248v3M298 182.5h3M299.5 181v3M278 227.5h3M279.5 226v3M299 247.5h3M300.5 246v3M287 166.5h3M288.5 165v3M292.5 228v3M291 229.5h1M282 177.5h3M283.5 178v1M292 154.5h3M293.5 153v3M285.5 207v3M286 208.5h1M272 265.5h3M273.5 264v3M290.5 242v3M289 243.5h1M270.5 259v3M269 260.5h1M282 156.5h3M283.5 155v3M300 242.5h3M301.5 243v1M280 169.5h3M281.5 168v3M281 267.5h3M282.5 266v3M287 159.5h3M288.5 158v3M288.5 174v3M289 175.5h1M296 160.5h3M297.5 159v3M278 244.5h3M279.5 243v3M296.5 215v3M297 216.5h1M286.5 257v3M285 258.5h1M280.5 247v3M281 248.5h1M275 228.5h3M276.5 227v3M285 183.5h3M286.5 182v3M267 261.5h3M268.5 260v3M279 230.5h3M280.5 229v3M269 203.5h3M270.5 202v3M283 158.5h3M284.5 159v1M292 155.5h3M293.5 156v1M268 248.5h3M269.5 247v1M278.5 179v3M277 180.5h1M293 204.5h3M294.5 203v1M277 244.5h3M278.5 243v3M263.5 251v3M264 252.5h1M284 236.5h3M285.5 235v3M266 228.5h3M267.5 227v3M292.5 166v3M291 167.5h1M284 209.5h3M285.5 208v3M265 210.5h3M266.5 209v3M289.5 220v3M290 221.5h1M283.5 239v3M282 240.5h1M279 189.5h3M280.5 188v3M292 158.5h3M293.5 157v3M293 145.5h3M294.5 144v3M293 115.5h3M294.5 114v3M286 128.5h3M287.5 129v1M294 140.5h3M295.5 139v1M281 121.5h3M282.5 120v3M281.5 136v3M280 137.5h1M287 133.5h3M288.5 132v3M280 129.5h3M281.5 128v3M282 142.5h3M283.5 141v3M296.5 136v3M297 137.5h1M293.5 125v3M294 126.5h1M280 115.5h3M281.5 114v3M283 118.5h3M284.5 117v3M281.5 122v3M282 123.5h1M284 118.5h3M285.5 119v1M290 137.5h3M291.5 136v3M281 94.5h3M282.5 93v3M292 104.5h3M293.5 105v1M282.5 109v3M281 110.5h1M282 99.5h3M283.5 98v3M292 106.5h3M293.5 105v3M302 113.5h3M303.5 112v3M312 212.5h3M313.5 211v1M317.5 182v3M318 183.5h1M323 236.5h3M324.5 235v1M316 244.5h3M317.5 243v3M315.5 200v3M316 201.5h1M327 164.5h3M328.5 163v1M302 220.5h3M303.5 219v3M322 230.5h3M323.5 229v3M308 234.5h3M309.5 233v3M322 200.5h3M323.5 199v3M317 221.5h3M318.5 220v3M315.5 172v3M316 173.5h1M305 161.5h3M306.5 162v1M329 215.5h3M330.5 214v3M362 175.5h3M363.5 176v1M337 200.5h3M338.5 199v3M340 163.5h3M341.5 162v3M357 187.5h3M358.5 186v3M357 201.5h3M358.5 200v1M353 212.5h3M354.5 211v1M356.5 192v3M357 193.5h1M360.5 208v3M359 209.5h1M338 199.5h3M339.5 198v1M363 210.5h3M364.5 209v1M358 202.5h3M359.5 201v3M348 202.5h3M349.5 201v3M346.5 202v3M347 203.5h1M351 220.5h3M352.5 219v3M348 204.5h3M349.5 203v1M364.5 183v3M363 184.5h1M369.5 166v3M370 167.5h1M378.5 180v3M377 181.5h1M337.5 110v3M336 111.5h1M346 119.5h3M347.5 118v3M452 136.5h3M453.5 135v3M454.5 131v3M455 132.5h1M305 368.5h3M306.5 367v3M328 369.5h3M329.5 368v3M326 367.5h3M327.5 366v3M326 366.5h3M327.5 365v3M323.5 368v3M324 369.5h1M319 369.5h3M320.5 368v3M299.5 371v3M298 372.5h1M367 354.5h3M368.5 353v3M336 370.5h3M337.5 369v1M367 359.5h3M368.5 358v1M352.5 359v3M353 360.5h1M351 362.5h3M352.5 361v1M333 365.5h3M334.5 364v1M349 369.5h3M350.5 368v3M358 356.5h3M359.5 355v3M338.5 363v3M337 364.5h1M354 360.5h3M355.5 359v3M351.5 363v3M352 364.5h1M362 357.5h3M363.5 356v3M366 352.5h3M367.5 353v1M346.5 359v3M347 360.5h1M332 368.5h3M333.5 367v3M336 367.5h3M337.5 368v1M339 367.5h3M340.5 366v3M334.5 367v3M333 368.5h1M335.5 367v3M336 368.5h1M340.5 348v3M339 349.5h1M296.5 366v3M295 367.5h1M296 337.5h3M297.5 336v3M301 337.5h3M302.5 336v3M313 338.5h3M314.5 337v3M365.5 326v3M364 327.5h1M361 326.5h3M362.5 325v3M346 333.5h3M347.5 332v3M339 333.5h3M340.5 332v1M351 303.5h3M352.5 302v3M363 305.5h3M364.5 304v3M359 303.5h3M360.5 302v3M345 301.5h3M346.5 300v3M341 313.5h3M342.5 312v3M334.5 322v3M335 323.5h1M332 319.5h3M333.5 318v3M332 322.5h3M333.5 321v3M338 316.5h3M339.5 315v3M333 325.5h3M334.5 324v3M359 320.5h3M360.5 319v3M355 324.5h3M356.5 323v3M334 332.5h3M335.5 331v1M357 305.5h3M358.5 304v3M338 310.5h3M339.5 309v3M336.5 308v3M337 309.5h1M364 311.5h3M365.5 310v3M334 325.5h3M335.5 324v3M306.5 355v3M307 356.5h1M306.5 356v3M305 357.5h1M333.5 347v3M334 348.5h1M393 300.5h3M394.5 299v3M381 326.5h3M382.5 325v3M384 321.5h3M385.5 320v3M378 308.5h3M379.5 309v1M391 332.5h3M392.5 333v1M393.5 320v3M394 321.5h1M388 330.5h3M389.5 329v3M374.5 343v3M373 344.5h1M371.5 349v3M372 350.5h1M388 349.5h3M389.5 348v3M387.5 299v3M386 300.5h1M456 346.5h3M457.5 345v3M450 350.5h3M451.5 349v3M458 344.5h3M459.5 345v1M451 350.5h3M452.5 349v3M289 334.5h3M290.5 333v3M316 280.5h3M317.5 279v1M324.5 295v3M325 296.5h1M326.5 267v3M325 268.5h1M316.5 262v3M315 263.5h1"/>
<path class="pt" stroke="#0048ff" d="M95 458.5h3M96.5 457v3M107 459.5h3M108.5 458v3M108 458.5h3M109.5 459v1M111.5 456v3M112 457.5h1M94.5 458v3M95 459.5h1M216 506.5h3M217.5 507v1M144 419.5h3M145.5 418v3M143.5 415v3M142 416.5h1M134.5 435v3M133 436.5h1M129.5 429v3M130 430.5h1M140 443.5h3M141.5 442v3M136.5 428v3M137 429.5h1M133.5 432v3M132 433.5h1M137 435.5h3M138.5 434v3M136 436.5h3M137.5 437v1M160 440.5h3M161.5 441v1M177.5 348v3M178 349.5h1M179 368.5h3M180.5 367v3M161.5 393v3M162 394.5h1M182.5 378v3M183 379.5h1M160 404.5h3M161.5 405v1M184.5 340v3M183 341.5h1M173 343.5h3M174.5 342v3M159 378.5h3M160.5 377v3M174 358.5h3M175.5 357v3M172 397.5h3M173.5 396v3M174 379.5h3M175.5 378v3M189 399.5h3M190.5 398v3M172.5 337v3M171 338.5h1M189.5 395v3M188 396.5h1M155 404.5h3M156.5 403v3M151 432.5h3M152.5 431v3M155 400.5h3M156.5 399v1M178 388.5h3M179.5 389v1M173 389.5h3M174.5 388v3M171 351.5h3M172.5 350v3M187 351.5h3M188.5 350v1M192.5 359v3M191 360.5h1M187 384.5h3M188.5 383v3M177 337.5h3M178.5 338v1M153.5 425v3M152 426.5h1M171 393.5h3M172.5 392v3M149 440.5h3M150.5 439v3M149 433.5h3M150.5 434v1M181 349.5h3M182.5 350v1M169 383.5h3M170.5 382v3M158 431.5h3M159.5 430v1M182 359.5h3M183.5 358v3M182 373.5h3M183.5 372v3M150 432.5h3M151.5 431v1M151 432.5h3M152.5 433v1M169 389.5h3M170.5 388v3M183 374.5h3M184.5 373v3M166 346.5h3M167.5 345v3M175 383.5h3M176.5 382v3M176 379.5h3M177.5 378v1M141.5 443v3M140 444.5h1M136 444.5h3M137.5 443v3M177 418.5h3M178.5 417v3M155 418.5h3M156.5 417v3M153 425.5h3M154.5 424v3M157 433.5h3M158.5 432v3M157.5 418v3M158 419.5h1M166 420.5h3M167.5 419v1M216.5 365v3M217 366.5h1M185 323.5h3M186.5 322v3M175 287.5h3M176.5 286v3M196 310.5h3M197.5 309v3M191.5 304v3M190 305.5h1M188 310.5h3M189.5 309v3M195 300.5h3M196.5 299v3M188 329.5h3M189.5 328v3M184 330.5h3M185.5 329v3M167 312.5h3M168.5 311v3M192 335.5h3M193.5 334v3M164 328.5h3M165.5 327v3M172 270.5h3M173.5 269v3M182 274.5h3M183.5 273v3M184 318.5h3M185.5 317v3M165 332.5h3M166.5 333v1M165 310.5h3M166.5 309v3M188 324.5h3M189.5 323v3M164 302.5h3M165.5 301v3M182 301.5h3M183.5 300v3M168 314.5h3M169.5 313v3M194 317.5h3M195.5 316v3M189.5 330v3M188 331.5h1M172 316.5h3M173.5 315v3M196.5 334v3M197 335.5h1M185 301.5h3M186.5 300v1M197.5 306v3M196 307.5h1M266 239.5h3M267.5 238v3M283 235.5h3M284.5 234v3M222.5 331v3M223 332.5h1M298.5 258v3M297 259.5h1M252 278.5h3M253.5 277v1M211 324.5h3M212.5 323v3M264 240.5h3M265.5 239v3M209 319.5h3M210.5 320v1M227 306.5h3M228.5 305v1M216 287.5h3M217.5 286v3M284.5 243v3M283 244.5h1M274 242.5h3M275.5 241v1M235 263.5h3M236.5 262v3M208 332.5h3M209.5 331v3M262 265.5h3M263.5 266v1M230 326.5h3M231.5 325v3M275 232.5h3M276.5 231v3M213 313.5h3M214.5 314v1M239 281.5h3M240.5 280v3M222 306.5h3M223.5 305v3M238.5 313v3M237 314.5h1M261 265.5h3M262.5 264v3M249.5 272v3M248 273.5h1M268 266.5h3M269.5 265v3M258 248.5h3M259.5 247v3M225.5 272v3M224 273.5h1M210.5 314v3M211 315.5h1M262 267.5h3M263.5 266v3M213.5 327v3M214 328.5h1M232.5 310v3M231 311.5h1M223 304.5h3M224.5 303v3M208 329.5h3M209.5 328v1M283 248.5h3M284.5 247v3M276 268.5h3M277.5 267v3M252 278.5h3M253.5 277v3M243 256.5h3M244.5 255v3M210 308.5h3M211.5 307v3M246 270.5h3M247.5 269v3M275 257.5h3M276.5 258v1M220 332.5h3M221.5 331v1M281.5 252v3M280 253.5h1M218 267.5h3M219.5 266v3M270 230.5h3M271.5 229v3M232 262.5h3M233.5 261v3M223 330.5h3M224.5 331v1M202.5 345v3M201 346.5h1M213 343.5h3M214.5 342v1M219 283.5h3M220.5 282v1M236.5 298v3M235 299.5h1M237 268.5h3M238.5 267v3M225 297.5h3M226.5 296v1M224 313.5h3M225.5 312v3M227 329.5h3M228.5 328v3M233 301.5h3M234.5 300v3M225 290.5h3M226.5 289v1M217.5 315v3M216 316.5h1M238 259.5h3M239.5 258v3M203 289.5h3M204.5 288v1M210 253.5h3M211.5 252v1M205 262.5h3M206.5 261v3M284 212.5h3M285.5 211v3M275 234.5h3M276.5 233v3M270 247.5h3M271.5 246v1M267.5 243v3M268 244.5h1M289 195.5h3M290.5 194v3M274 189.5h3M275.5 188v3M274 221.5h3M275.5 220v3M297 194.5h3M298.5 193v3M278 255.5h3M279.5 254v3M290 196.5h3M291.5 195v3M290 222.5h3M291.5 221v3M293 211.5h3M294.5 210v1M272 240.5h3M273.5 241v1M283 193.5h3M284.5 192v3M283 220.5h3M284.5 219v3M278.5 248v3M279 249.5h1M291 260.5h3M292.5 259v3M294 165.5h3M295.5 164v3M290 241.5h3M291.5 240v1M297 224.5h3M298.5 223v3M267 246.5h3M268.5 247v1M271 264.5h3M272.5 263v3M295.5 245v3M294 246.5h1M279 256.5h3M280.5 255v3M274 194.5h3M275.5 195v1M280.5 248v3M279 249.5h1M288 256.5h3M289.5 255v3M291.5 222v3M292 223.5h1M281 228.5h3M282.5 227v3M293.5 206v3M292 207.5h1M298 243.5h3M299.5 242v3M262 257.5h3M263.5 256v3M283 237.5h3M284.5 236v3M286.5 204v3M287 205.5h1M277 255.5h3M278.5 254v3M275 249.5h3M276.5 248v3M286.5 232v3M287 233.5h1M274.5 208v3M275 209.5h1M279 255.5h3M280.5 256v1M283 218.5h3M284.5 219v1M273 253.5h3M274.5 252v3M268.5 221v3M269 222.5h1M286 216.5h3M287.5 215v3M283.5 252v3M282 253.5h1M277 167.5h3M278.5 166v3M263 232.5h3M264.5 231v3M295 207.5h3M296.5 206v3M272 266.5h3M273.5 265v3M274 233.5h3M275.5 232v3M278 202.5h3M279.5 203v1M293 244.5h3M294.5 243v1M290 187.5h3M291.5 186v3M285.5 208v3M284 209.5h1M299.5 247v3M298 248.5h1M274.5 253v3M275 254.5h1M292 234.5h3M293.5 233v3M291 230.5h3M292.5 229v3M267 248.5h3M268.5 247v3M294 236.5h3M295.5 235v3M276 253.5h3M277.5 252v3M293.5 238v3M294 239.5h1M264 228.5h3M265.5 227v1M264 221.5h3M265.5 220v3M290 176.5h3M291.5 175v3M299 238.5h3M300.5 237v1M277.5 175v3M276 176.5h1M271 222.5h3M272.5 221v3M266 245.5h3M267.5 244v3M293 255.5h3M294.5 254v3M286 247.5h3M287.5 246v3M274 206.5h3M275.5 205v1M279 198.5h3M280.5 197v3M294.5 175v3M293 176.5h1M283 205.5h3M284.5 206v1M286 118.5h3M287.5 117v3M288 149.5h3M289.5 150v1M285 130.5h3M286.5 129v1M292.5 117v3M293 118.5h1M290 111.5h3M291.5 110v3M295 136.5h3M296.5 135v3M285 142.5h3M286.5 141v3M289.5 146v3M288 147.5h1M285 118.5h3M286.5 117v3M303.5 206v3M302 207.5h1M319 223.5h3M320.5 222v3M324.5 187v3M325 188.5h1M330.5 209v3M331 210.5h1M324 206.5h3M325.5 205v3M321 239.5h3M322.5 238v1M356 208.5h3M357.5 207v1M345 193.5h3M346.5 194v1M361.5 165v3M360 166.5h1M366.5 185v3M367 186.5h1M353 186.5h3M354.5 185v1M348 197.5h3M349.5 196v3M351 207.5h3M352.5 208v1M346 206.5h3M347.5 205v3M343 212.5h3M344.5 213v1M349 205.5h3M350.5 204v3M346 206.5h3M347.5 205v3M367 193.5h3M368.5 192v1M343 119.5h3M344.5 118v3M345 120.5h3M346.5 121v1M343.5 117v3M344 118.5h1M340 120.5h3M341.5 119v3M451 139.5h3M452.5 138v1M461 137.5h3M462.5 136v3M567 258.5h3M568.5 259v1M315 372.5h3M316.5 371v3M327.5 369v3M328 370.5h1M297 369.5h3M298.5 368v1M297 370.5h3M298.5 369v3M308 370.5h3M309.5 369v1M334 368.5h3M335.5 369v1M335.5 370v3M334 371.5h1M345 362.5h3M346.5 361v3M351 362.5h3M352.5 361v3M349.5 363v3M348 364.5h1M360 356.5h3M361.5 357v1M358 364.5h3M359.5 365v1M341 368.5h3M342.5 367v3M367 356.5h3M368.5 355v3M331 366.5h3M332.5 365v1M337 366.5h3M338.5 365v3M338 365.5h3M339.5 364v3M352.5 360v3M351 361.5h1M354 361.5h3M355.5 362v1M354 366.5h3M355.5 365v3M339 370.5h3M340.5 369v3M335 361.5h3M336.5 362v1M339.5 364v3M340 365.5h1M340 353.5h3M341.5 352v1M341.5 349v3M342 350.5h1M295.5 363v3M296 364.5h1M295 364.5h3M296.5 365v1M312 337.5h3M313.5 336v1M347 315.5h3M348.5 314v1M334 317.5h3M335.5 318v1M359.5 310v3M360 311.5h1M345.5 310v3M346 311.5h1M355.5 296v3M354 297.5h1M364.5 327v3M365 328.5h1M339.5 330v3M338 331.5h1M352.5 302v3M351 303.5h1M350 324.5h3M351.5 325v1M348 316.5h3M349.5 315v3M348 336.5h3M349.5 335v1M345.5 314v3M344 315.5h1M342.5 325v3M341 326.5h1M347 321.5h3M348.5 320v3M367 316.5h3M368.5 315v3M366 304.5h3M367.5 303v1M362 331.5h3M363.5 330v3M349.5 332v3M350 333.5h1M353 335.5h3M354.5 334v3M356 317.5h3M357.5 316v3M360 319.5h3M361.5 318v3M389.5 305v3M388 306.5h1M380 328.5h3M381.5 327v3M386 318.5h3M387.5 317v1M390.5 327v3M389 328.5h1M390 304.5h3M391.5 303v3M391.5 309v3M392 310.5h1M386 330.5h3M387.5 329v3M382 331.5h3M383.5 330v3M374 310.5h3M375.5 309v1M386 324.5h3M387.5 325v1M389 306.5h3M390.5 305v1M383 344.5h3M384.5 343v3M378 343.5h3M379.5 344v1M382.5 343v3M383 344.5h1M404 283.5h3M405.5 284v1M459 341.5h3M460.5 340v3M455.5 346v3M456 347.5h1M299 314.5h3M300.5 313v3M329 325.5h3M330.5 324v1M317.5 321v3M318 322.5h1M339 272.5h3M340.5 271v3M345 276.5h3M346.5 275v3M345 291.5h3M346.5 290v3"/>
<path class="pt" stroke="#006aff" d="M97.5 459v3M96 460.5h1M108 457.5h3M109.5 456v1M116 457.5h3M117.5 456v3M92 462.5h3M93.5 461v3M127 452.5h3M128.5 453v1M133.5 506v3M134 507.5h1M87 350.5h3M88.5 351v1M92 359.5h3M93.5 358v1M135.5 434v3M134 435.5h1M137 436.5h3M138.5 435v3M191.5 387v3M192 388.5h1M173 354.5h3M174.5 353v3M171 340.5h3M172.5 339v1M177 381.5h3M178.5 380v3M165.5 341v3M166 342.5h1M165.5 427v3M164 428.5h1M175 386.5h3M176.5 385v3M184.5 369v3M183 370.5h1M173 351.5h3M174.5 352v1M173 426.5h3M174.5 425v3M180 350.5h3M181.5 351v1M177 392.5h3M178.5 391v1M168 432.5h3M169.5 431v3M190 360.5h3M191.5 359v3M161 415.5h3M162.5 414v3M185 399.5h3M186.5 398v1M167 339.5h3M168.5 340v1M169 388.5h3M170.5 389v1M172.5 375v3M173 376.5h1M186 351.5h3M187.5 350v3M161 419.5h3M162.5 418v1M186 360.5h3M187.5 361v1M171 355.5h3M172.5 354v1M183.5 358v3M182 359.5h1M170 377.5h3M171.5 376v3M168 363.5h3M169.5 362v3M143 447.5h3M144.5 446v3M136 442.5h3M137.5 441v3M156 425.5h3M157.5 424v3M213.5 407v3M212 408.5h1M214 409.5h3M215.5 408v3M210 345.5h3M211.5 344v3M191.5 331v3M190 332.5h1M176 309.5h3M177.5 308v3M186 328.5h3M187.5 327v3M164 318.5h3M165.5 317v3M195 318.5h3M196.5 317v3M162 307.5h3M163.5 306v3M185 318.5h3M186.5 317v3M173.5 329v3M174 330.5h1M187 266.5h3M188.5 265v3M182 317.5h3M183.5 316v1M167 284.5h3M168.5 285v1M162 306.5h3M163.5 305v1M191 295.5h3M192.5 294v3M183.5 314v3M182 315.5h1M167 298.5h3M168.5 297v3M170 305.5h3M171.5 306v1M193 329.5h3M194.5 328v3M180.5 228v3M179 229.5h1M201 317.5h3M202.5 316v3M262 252.5h3M263.5 253v1M222 322.5h3M223.5 321v1M227 301.5h3M228.5 300v1M201 327.5h3M202.5 326v1M262 276.5h3M263.5 275v3M233 303.5h3M234.5 304v1M270.5 246v3M271 247.5h1M228 267.5h3M229.5 266v3M284.5 251v3M283 252.5h1M250 289.5h3M251.5 290v1M270.5 256v3M271 257.5h1M289 259.5h3M290.5 258v3M247 305.5h3M248.5 304v3M208.5 302v3M207 303.5h1M236 292.5h3M237.5 291v3M246 297.5h3M247.5 296v3M227.5 320v3M228 321.5h1M295 257.5h3M296.5 256v3M251 280.5h3M252.5 281v1M262 263.5h3M263.5 264v1M248 264.5h3M249.5 263v3M293 262.5h3M294.5 261v1M222 304.5h3M223.5 305v1M274 245.5h3M275.5 244v3M203 335.5h3M204.5 334v3M218 327.5h3M219.5 328v1M280 269.5h3M281.5 270v1M242.5 286v3M243 287.5h1M282 236.5h3M283.5 235v1M214 333.5h3M215.5 334v1M209.5 303v3M210 304.5h1M249 270.5h3M250.5 269v1M237 285.5h3M238.5 284v3M219 302.5h3M220.5 301v3M206.5 310v3M207 311.5h1M276.5 268v3M275 269.5h1M209.5 317v3M210 318.5h1M210 305.5h3M211.5 304v1M277 239.5h3M278.5 238v3M212 309.5h3M213.5 310v1M204 304.5h3M205.5 303v3M286 248.5h3M287.5 247v3M226 270.5h3M227.5 271v1M262 275.5h3M263.5 274v3M230 311.5h3M231.5 310v3M227 285.5h3M228.5 286v1M213.5 308v3M214 309.5h1M203 323.5h3M204.5 322v3M204 327.5h3M205.5 326v3M217.5 303v3M216 304.5h1M221.5 269v3M220 270.5h1M206 311.5h3M207.5 310v3M281.5 245v3M280 246.5h1M218 339.5h3M219.5 340v1M235 286.5h3M236.5 287v1M228 313.5h3M229.5 312v3M239.5 299v3M238 300.5h1M246 287.5h3M247.5 288v1M242 285.5h3M243.5 284v3M219 309.5h3M220.5 308v1M235 294.5h3M236.5 295v1M243 300.5h3M244.5 299v3M231.5 288v3M230 289.5h1M205 267.5h3M206.5 266v3M219 250.5h3M220.5 249v1M219 250.5h3M220.5 249v1M217 264.5h3M218.5 263v3M261 406.5h3M262.5 405v3M263 409.5h3M264.5 408v3M267 330.5h3M268.5 329v3M279 188.5h3M280.5 187v3M300 225.5h3M301.5 224v3M298.5 176v3M299 177.5h1M277.5 191v3M278 192.5h1M286 224.5h3M287.5 223v3M264 248.5h3M265.5 247v1M290 161.5h3M291.5 160v3M297.5 253v3M296 254.5h1M291.5 154v3M292 155.5h1M293.5 171v3M294 172.5h1M264 240.5h3M265.5 239v3M296.5 238v3M297 239.5h1M268 248.5h3M269.5 247v3M265.5 215v3M264 216.5h1M293 241.5h3M294.5 242v1M285 238.5h3M286.5 237v3M279 231.5h3M280.5 232v1M290 171.5h3M291.5 170v3M278 249.5h3M279.5 250v1M291 233.5h3M292.5 232v1M265 259.5h3M266.5 258v3M277 202.5h3M278.5 201v3M281.5 262v3M280 263.5h1M297 158.5h3M298.5 157v3M291.5 244v3M290 245.5h1M295 221.5h3M296.5 222v1M258 248.5h3M259.5 247v3M275 249.5h3M276.5 248v3M260.5 248v3M261 249.5h1M290 228.5h3M291.5 227v1M294.5 212v3M293 213.5h1M260 253.5h3M261.5 252v3M269.5 246v3M268 247.5h1M292 244.5h3M293.5 243v3M281 182.5h3M282.5 181v3M265 249.5h3M266.5 250v1M271.5 241v3M272 242.5h1M285 257.5h3M286.5 256v3M283 214.5h3M284.5 213v3M277 231.5h3M278.5 232v1M291 253.5h3M292.5 254v1M302 233.5h3M303.5 234v1M279.5 174v3M278 175.5h1M293 158.5h3M294.5 157v1M294.5 221v3M295 222.5h1M292 151.5h3M293.5 150v3M276 256.5h3M277.5 255v3M293 182.5h3M294.5 181v3M295 236.5h3M296.5 235v3M281 115.5h3M282.5 116v1M296 122.5h3M297.5 121v3M284 129.5h3M285.5 128v3M293.5 134v3M294 135.5h1M290 112.5h3M291.5 113v1M288 95.5h3M289.5 96v1M290 97.5h3M291.5 96v3M288 103.5h3M289.5 102v3M290 104.5h3M291.5 103v3M303 154.5h3M304.5 153v1M323.5 243v3M322 244.5h1M327 151.5h3M328.5 150v3M337 164.5h3M338.5 163v3M353 197.5h3M354.5 196v1M345 203.5h3M346.5 202v3M367.5 249v3M366 250.5h1M378 181.5h3M379.5 180v3M338 120.5h3M339.5 119v3M343 117.5h3M344.5 116v3M334 119.5h3M335.5 118v1M384.5 100v3M385 101.5h1M421 127.5h3M422.5 126v3M404.5 105v3M405 106.5h1M422.5 199v3M421 200.5h1M403 216.5h3M404.5 215v3M344 482.5h3M345.5 481v3M355 481.5h3M356.5 480v3M303 373.5h3M304.5 372v3M322.5 369v3M323 370.5h1M347 367.5h3M348.5 366v3M348 363.5h3M349.5 362v3M356.5 353v3M355 354.5h1M352 365.5h3M353.5 364v1M333 370.5h3M334.5 369v1M332 368.5h3M333.5 369v1M337 364.5h3M338.5 363v3M337 368.5h3M338.5 367v3M334 367.5h3M335.5 366v3M339 350.5h3M340.5 349v1M337 356.5h3M338.5 355v3M304 335.5h3M305.5 334v3M320.5 333v3M321 334.5h1M335 306.5h3M336.5 307v1M353 325.5h3M354.5 324v3M336 325.5h3M337.5 324v3M356 324.5h3M357.5 323v3M336 329.5h3M337.5 328v3M348 314.5h3M349.5 313v3M348.5 328v3M347 329.5h1M340 322.5h3M341.5 321v3M358 311.5h3M359.5 310v3M351.5 301v3M352 302.5h1M336.5 326v3M337 327.5h1M344.5 301v3M343 302.5h1M361 303.5h3M362.5 302v3M299 347.5h3M300.5 348v1M386.5 331v3M387 332.5h1M391 297.5h3M392.5 298v1M379 325.5h3M380.5 324v3M377 320.5h3M378.5 319v3M384 315.5h3M385.5 314v3M378.5 313v3M379 314.5h1M374 346.5h3M375.5 345v1M376 341.5h3M377.5 340v1M370 344.5h3M371.5 343v3M370.5 342v3M369 343.5h1M379 341.5h3M380.5 340v3M379.5 341v3M378 342.5h1M379.5 340v3M378 341.5h1M386 299.5h3M387.5 298v3M391 296.5h3M392.5 295v3M446 354.5h3M447.5 353v3M450.5 352v3M449 353.5h1M294 334.5h3M295.5 333v3M317 322.5h3M318.5 323v1M350.5 265v3M349 266.5h1"/>
<path class="pt" stroke="#008dff" d="M117.5 456v3M116 457.5h1M103 460.5h3M104.5 461v1M112 456.5h3M113.5 455v3M86 446.5h3M87.5 445v1M172.5 402v3M173 403.5h1M186 371.5h3M187.5 370v3M174 392.5h3M175.5 391v3M188.5 341v3M187 342.5h1M184.5 377v3M183 378.5h1M165 423.5h3M166.5 422v3M165 344.5h3M166.5 343v3M157 417.5h3M158.5 416v3M186.5 391v3M187 392.5h1M161 429.5h3M162.5 428v3M188 354.5h3M189.5 353v1M169.5 356v3M170 357.5h1M168 339.5h3M169.5 338v1M169 370.5h3M170.5 369v3M174 395.5h3M175.5 394v3M184.5 384v3M183 385.5h1M180.5 372v3M179 373.5h1M172 409.5h3M173.5 408v3M202 352.5h3M203.5 353v1M201 347.5h3M202.5 346v3M179 323.5h3M180.5 322v3M193 285.5h3M194.5 284v3M190.5 290v3M189 291.5h1M194.5 325v3M193 326.5h1M169 288.5h3M170.5 287v3M185.5 313v3M184 314.5h1M170.5 316v3M169 317.5h1M168 327.5h3M169.5 326v3M171 324.5h3M172.5 325v1M195 320.5h3M196.5 321v1M194 325.5h3M195.5 326v1M189 316.5h3M190.5 315v1M181 313.5h3M182.5 312v1M192.5 305v3M191 306.5h1M192 307.5h3M193.5 306v3M195 315.5h3M196.5 314v3M211.5 262v3M212 263.5h1M201.5 331v3M202 332.5h1M249 301.5h3M250.5 300v3M232 265.5h3M233.5 264v3M274 246.5h3M275.5 245v3M230 308.5h3M231.5 309v1M266 257.5h3M267.5 256v3M248.5 304v3M249 305.5h1M210 313.5h3M211.5 312v1M201 329.5h3M202.5 328v1M205.5 291v3M204 292.5h1M248.5 258v3M247 259.5h1M230 307.5h3M231.5 306v3M277 241.5h3M278.5 240v3M270 232.5h3M271.5 231v3M218 304.5h3M219.5 303v3M281 239.5h3M282.5 238v3M204 307.5h3M205.5 306v3M223 332.5h3M224.5 331v1M277 262.5h3M278.5 261v3M211 329.5h3M212.5 328v1M272 254.5h3M273.5 253v3M245 306.5h3M246.5 305v1M277 231.5h3M278.5 230v3M208 311.5h3M209.5 310v1M212 301.5h3M213.5 300v3M229.5 315v3M228 316.5h1M299 251.5h3M300.5 250v3M250.5 289v3M251 290.5h1M213 314.5h3M214.5 313v3M241 257.5h3M242.5 258v1M230 309.5h3M231.5 310v1M283 258.5h3M284.5 257v3M253.5 250v3M254 251.5h1M206 305.5h3M207.5 304v3M262.5 274v3M261 275.5h1M224 308.5h3M225.5 307v3M282 265.5h3M283.5 264v1M253.5 257v3M254 258.5h1M213 301.5h3M214.5 300v3M219 353.5h3M220.5 352v3M240 281.5h3M241.5 280v1M248 287.5h3M249.5 286v3M231 249.5h3M232.5 248v3M205 262.5h3M206.5 263v1M265 237.5h3M266.5 238v1M279 256.5h3M280.5 255v3M295 252.5h3M296.5 251v3M262 243.5h3M263.5 242v3M296.5 169v3M297 170.5h1M282 239.5h3M283.5 238v3M297.5 212v3M296 213.5h1M277 187.5h3M278.5 186v3M277 196.5h3M278.5 195v3M286.5 260v3M287 261.5h1M279.5 159v3M280 160.5h1M284.5 242v3M283 243.5h1M281 245.5h3M282.5 244v3M257 268.5h3M258.5 267v3M292.5 208v3M291 209.5h1M278 239.5h3M279.5 240v1M298.5 195v3M297 196.5h1M285 205.5h3M286.5 204v3M262 254.5h3M263.5 253v3M271 224.5h3M272.5 225v1M296 175.5h3M297.5 174v3M258 264.5h3M259.5 263v3M282.5 179v3M281 180.5h1M268 239.5h3M269.5 238v3M285 183.5h3M286.5 182v3M280 253.5h3M281.5 254v1M277 195.5h3M278.5 196v1M284 236.5h3M285.5 235v3M289 253.5h3M290.5 252v3M287.5 179v3M286 180.5h1M288 164.5h3M289.5 163v3M295.5 159v3M294 160.5h1M268.5 241v3M267 242.5h1M293 246.5h3M294.5 245v3M275 238.5h3M276.5 237v3M287 248.5h3M288.5 247v3M293 248.5h3M294.5 249v1M268 254.5h3M269.5 253v3M281 199.5h3M282.5 200v1M263 233.5h3M264.5 232v3M293 200.5h3M294.5 199v3M280 187.5h3M281.5 186v3M279 232.5h3M280.5 231v3M286.5 226v3M287 227.5h1M279 254.5h3M280.5 253v3M299 190.5h3M300.5 189v3M272 249.5h3M273.5 248v1M294 188.5h3M295.5 187v3M297 116.5h3M298.5 115v3M282 122.5h3M283.5 121v3M281 119.5h3M282.5 118v3M305 151.5h3M306.5 152v1M322 241.5h3M323.5 240v3M310 245.5h3M311.5 244v1M300 155.5h3M301.5 154v3M315 188.5h3M316.5 187v3M359 167.5h3M360.5 168v1M354.5 206v3M355 207.5h1M364.5 249v3M363 250.5h1M327 365.5h3M328.5 364v3M319 371.5h3M320.5 370v3M363 354.5h3M364.5 355v1M368 358.5h3M369.5 357v3M351 359.5h3M352.5 358v3M341 322.5h3M342.5 321v3M354 324.5h3M355.5 325v1M352.5 318v3M353 319.5h1M346 321.5h3M347.5 320v3M359.5 303v3M360 304.5h1M350 322.5h3M351.5 321v3M363 329.5h3M364.5 328v3M359.5 323v3M360 324.5h1M363 304.5h3M364.5 303v3M336 316.5h3M337.5 315v3M387 299.5h3M388.5 298v3M386.5 299v3M385 300.5h1M392 324.5h3M393.5 323v1M373 303.5h3M374.5 302v3M376 323.5h3M377.5 322v3M390.5 311v3M389 312.5h1M378 325.5h3M379.5 324v3M390 299.5h3M391.5 298v3M385.5 311v3M386 312.5h1M383.5 318v3M384 319.5h1M379 331.5h3M380.5 330v3M381 306.5h3M382.5 305v3M391 298.5h3M392.5 299v1M377 347.5h3M378.5 346v1M375 345.5h3M376.5 344v3M370 351.5h3M371.5 350v3M378.5 344v3M379 345.5h1M379 342.5h3M380.5 341v3M376.5 346v3M375 347.5h1M301 318.5h3M302.5 317v3M352.5 280v3M353 281.5h1"/>
<path class="pt" stroke="#00afff" d="M109 456.5h3M110.5 455v3M110.5 457v3M111 458.5h1M134.5 421v3M135 422.5h1M185.5 369v3M184 370.5h1M211 359.5h3M212.5 358v3M189 297.5h3M190.5 296v3M194.5 302v3M195 303.5h1M175 333.5h3M176.5 332v3M180 307.5h3M181.5 306v3M219.5 296v3M220 297.5h1M240 317.5h3M241.5 316v3M277 265.5h3M278.5 264v3M224.5 324v3M223 325.5h1M289 259.5h3M290.5 258v3M240 307.5h3M241.5 306v3M238.5 261v3M239 262.5h1M243 295.5h3M244.5 296v1M244 266.5h3M245.5 267v1M202 312.5h3M203.5 311v3M293 261.5h3M294.5 260v3M286.5 242v3M285 243.5h1M289.5 241v3M288 242.5h1M231 289.5h3M232.5 290v1M294 246.5h3M295.5 245v3M239 309.5h3M240.5 308v3M227.5 250v3M226 251.5h1M297 199.5h3M298.5 200v1M274 239.5h3M275.5 238v3M298.5 173v3M297 174.5h1M298 187.5h3M299.5 186v1M263 233.5h3M264.5 232v3M266 221.5h3M267.5 222v1M288 190.5h3M289.5 189v3M273 209.5h3M274.5 208v1M296 169.5h3M297.5 168v3M297 185.5h3M298.5 186v1M294 223.5h3M295.5 222v3M263 235.5h3M264.5 234v3M278 226.5h3M279.5 225v3M279 206.5h3M280.5 205v1M287 214.5h3M288.5 213v3M277 243.5h3M278.5 242v3M271 214.5h3M272.5 213v3M295 244.5h3M296.5 243v3M280.5 250v3M281 251.5h1M286 200.5h3M287.5 201v1M281.5 172v3M282 173.5h1M273.5 252v3M272 253.5h1M282.5 163v3M281 164.5h1M273 197.5h3M274.5 196v3M286 170.5h3M287.5 169v3M285 236.5h3M286.5 235v3M380.5 175v3M379 176.5h1M308.5 370v3M309 371.5h1M341.5 360v3M340 361.5h1M296 368.5h3M297.5 367v3M338 313.5h3M339.5 312v3M340 305.5h3M341.5 304v3M355 329.5h3M356.5 328v3M364.5 303v3M365 304.5h1M345 311.5h3M346.5 310v3M301 353.5h3M302.5 352v3M378 319.5h3M379.5 318v3M381 321.5h3M382.5 320v1M375 311.5h3M376.5 310v1M380 308.5h3M381.5 309v1M382 330.5h3M383.5 331v1M381.5 307v3M382 308.5h1M381 326.5h3M382.5 325v3M380 313.5h3M381.5 312v3M374 345.5h3M375.5 344v3M384 288.5h3M385.5 287v1M346.5 264v3M345 265.5h1"/>
<path class="pt" stroke="#00d1ff" d="M227 270.5h3M228.5 269v3M237 303.5h3M238.5 302v3M221.5 312v3M222 313.5h1M253.5 275v3M252 276.5h1M258.5 271v3M259 272.5h1M226 295.5h3M227.5 294v3M217 300.5h3M218.5 299v3M287.5 222v3M288 223.5h1M298.5 225v3M299 226.5h1M269 205.5h3M270.5 206v1M275.5 183v3M276 184.5h1M272 224.5h3M273.5 223v3M282 179.5h3M283.5 180v1M276 252.5h3M277.5 253v1M274.5 225v3M275 226.5h1M295 224.5h3M296.5 225v1M299 214.5h3M300.5 213v3M282 150.5h3M283.5 151v1M274 204.5h3M275.5 203v1M285 219.5h3M286.5 218v3M356 300.5h3M357.5 299v3M346.5 325v3M345 326.5h1M352 323.5h3M353.5 322v3M365 310.5h3M366.5 309v3M351 313.5h3M352.5 312v3M336.5 322v3M335 323.5h1M389 331.5h3M390.5 330v1M393 320.5h3M394.5 319v3M384.5 314v3M383 315.5h1M377 313.5h3M378.5 312v1M371 343.5h3M372.5 342v1M371 341.5h3M372.5 342v1M377 341.5h3M378.5 340v3"/>
<path class="pt" stroke="#00f4ff" d="M121 458.5h3M122.5 457v3M130 506.5h3M131.5 507v1M136 508.5h3M137.5 507v1M213 410.5h3M214.5 409v3M214 318.5h3M215.5 319v1M266 239.5h3M267.5 238v1M283.5 243v3M284 244.5h1M284 266.5h3M285.5 265v3M273 317.5h3M274.5 316v1M240 392.5h3M241.5 391v1M282 220.5h3M283.5 219v3M280 103.5h3M281.5 102v3M283 103.5h3M284.5 102v3M262 122.5h3M263.5 121v3M276 111.5h3M277.5 110v1M315 225.5h3M316.5 224v3M345 202.5h3M346.5 201v1M348.5 129v3M347 130.5h1M331 135.5h3M332.5 134v3M354 145.5h3M355.5 144v1M376 105.5h3M377.5 104v3M421 132.5h3M422.5 131v1M568.5 185v3M569 186.5h1M567 214.5h3M568.5 215v1M380 233.5h3M381.5 232v3M380 235.5h3M381.5 234v3M546 488.5h3M547.5 487v3M351.5 481v3M352 482.5h1M345.5 322v3M344 323.5h1M338 311.5h3M339.5 310v3"/>
<path class="pt" stroke="#00ffea" d="M291 249.5h3M292.5 248v3M238 262.5h3M239.5 261v3M250 292.5h3M251.5 291v3M245 298.5h3M246.5 297v3M299.5 209v3M300 210.5h1M288 233.5h3M289.5 232v3M327 222.5h3M328.5 221v3M389 310.5h3M390.5 309v3"/>
<path class="pt" stroke="#00ffac" d="M370 229.5h3M371.5 228v3M363 165.5h3M364.5 164v3M378.5 252v3M379 253.5h1"/>
<path class="pt" stroke="#00ff8d" d="M359 192.5h3M360.5 191v1M355 224.5h3M356.5 223v3"/>
<path class="pt" stroke="#00ff4e" d="M323 199.5h3M324.5 198v3"/>
<path class="pt" stroke="#00ff2f" d="M308 153.5h3M309.5 152v3M365 183.5h3M366.5 182v3M333 203.5h3M334.5 204v1"/>
<path class="pt" stroke="#00ff10" d="M214.5 346v3M213 347.5h1M345.5 193v3M346 194.5h1M338 238.5h3M339.5 237v3M345 225.5h3M346.5 224v1"/>
<path class="pt" stroke="#10ff00" d="M258.5 389v3M259 390.5h1M329 243.5h3M330.5 242v1M353 215.5h3M354.5 214v3M334.5 235v3M333 236.5h1M342 237.5h3M343.5 236v3M368 162.5h3M369.5 161v3"/>
<path class="pt" stroke="#50ff00" d="M293 81.5h3M294.5 80v3M311.5 154v3M312 155.5h1M300.5 162v3M301 163.5h1M353 208.5h3M354.5 207v3M358.5 182v3M359 183.5h1M357 223.5h3M358.5 222v1M334 222.5h3M335.5 223v1M334.5 242v3M333 243.5h1M340 240.5h3M341.5 239v3M336.5 232v3M335 233.5h1M373 210.5h3M374.5 211v1M303 130.5h3M304.5 129v3M337 84.5h3M338.5 83v3M347 136.5h3M348.5 135v1M403 152.5h3M404.5 151v1M567 160.5h3M568.5 159v3M567 172.5h3M568.5 171v3M503 284.5h3M504.5 283v3M373.5 357v3M374 358.5h1M405 299.5h3M406.5 298v3M399 295.5h3M400.5 294v3"/>
<path class="pt" stroke="#71ff00" d="M79 446.5h3M80.5 445v3M341 233.5h3M342.5 234v1M346.5 233v3M347 234.5h1M340 232.5h3M341.5 233v1M321 240.5h3M322.5 239v3M345.5 238v3M344 239.5h1M332 240.5h3M333.5 239v1M375 214.5h3M376.5 215v1M447 186.5h3M448.5 185v3M451 240.5h3M452.5 239v3M453 240.5h3M454.5 239v3M377 362.5h3M378.5 363v1M419.5 292v3M418 293.5h1M398 290.5h3M399.5 289v3M399 314.5h3M400.5 313v3"/>
<path class="pt" stroke="#91ff00" d="M123 460.5h3M124.5 459v3M173 448.5h3M174.5 447v1M254.5 383v3M255 384.5h1M318 206.5h3M319.5 205v3M355 169.5h3M356.5 168v3M331 240.5h3M332.5 239v3M340 228.5h3M341.5 227v3M346 228.5h3M347.5 229v1M342.5 227v3M341 228.5h1M333.5 234v3M332 235.5h1M358 173.5h3M359.5 172v3M384 196.5h3M385.5 195v3M456 240.5h3M457.5 239v1M378.5 360v3M377 361.5h1M370 361.5h3M371.5 360v3M367.5 359v3M368 360.5h1M413 290.5h3M414.5 291v1"/>
<path class="pt" stroke="#b2ff00" d="M345.5 167v3M346 168.5h1M329.5 244v3M330 245.5h1M342 233.5h3M343.5 232v3M336 230.5h3M337.5 229v3M346.5 229v3M345 230.5h1M328 249.5h3M329.5 248v1M350.5 225v3M351 226.5h1M343.5 221v3M344 222.5h1M356 216.5h3M357.5 215v3M340 235.5h3M341.5 236v1M336.5 238v3M337 239.5h1M342 232.5h3M343.5 231v3M340 239.5h3M341.5 238v1M336 244.5h3M337.5 243v3M342 225.5h3M343.5 224v3M346.5 225v3M345 226.5h1M339 228.5h3M340.5 227v3M332 225.5h3M333.5 224v3M340 220.5h3M341.5 219v3M376.5 197v3M377 198.5h1M355 188.5h3M356.5 187v3M363 223.5h3M364.5 222v1M347 113.5h3M348.5 114v1M387.5 112v3M386 113.5h1M566 100.5h3M567.5 99v3M525 260.5h3M526.5 261v1M374 354.5h3M375.5 353v3M385 362.5h3M386.5 361v1M367 354.5h3M368.5 353v3M407 347.5h3M408.5 346v1M364 358.5h3M365.5 359v1M375 362.5h3M376.5 361v3M371 362.5h3M372.5 361v3M403 293.5h3M404.5 292v1M401 329.5h3M402.5 328v3"/>
<path class="pt" stroke="#d2ff00" d="M320 230.5h3M321.5 229v3M363 171.5h3M364.5 170v3M363 182.5h3M364.5 183v1M334 240.5h3M335.5 239v1M327 242.5h3M328.5 241v3M333 236.5h3M334.5 235v3M343 236.5h3M344.5 235v3M341 235.5h3M342.5 234v1M330 239.5h3M331.5 240v1M346.5 227v3M347 228.5h1M339 233.5h3M340.5 232v3M344.5 235v3M343 236.5h1M350 230.5h3M351.5 229v1M340 116.5h3M341.5 115v3M377 360.5h3M378.5 359v3M384 351.5h3M385.5 350v3M400 342.5h3M401.5 343v1M406 350.5h3M407.5 349v3M414 342.5h3M415.5 341v3M407 333.5h3M408.5 332v1M408 338.5h3M409.5 337v1M410.5 347v3M409 348.5h1M407.5 346v3M406 347.5h1M370.5 363v3M371 364.5h1M327.5 267v3M328 268.5h1"/>
<path class="pt" stroke="#f2ff00" d="M93 465.5h3M94.5 464v3M276 300.5h3M277.5 301v1M348.5 179v3M347 180.5h1M345 178.5h3M346.5 177v3M338 233.5h3M339.5 232v3M333.5 230v3M334 231.5h1M349 220.5h3M350.5 219v3M350 227.5h3M351.5 228v1M326 251.5h3M327.5 250v3M340 222.5h3M341.5 221v3M334 234.5h3M335.5 233v3M345 230.5h3M346.5 229v3M328 242.5h3M329.5 241v3M345 238.5h3M346.5 239v1M347 229.5h3M348.5 228v3M330 240.5h3M331.5 239v3M321 143.5h3M322.5 144v1M356.5 95v3M355 96.5h1M356.5 112v3M355 113.5h1M361 109.5h3M362.5 108v3M332 117.5h3M333.5 116v3M448.5 140v3M447 141.5h1M456.5 134v3M455 135.5h1M455 134.5h3M456.5 133v3M382 190.5h3M383.5 189v1M525 200.5h3M526.5 199v3M525 228.5h3M526.5 227v1M553 228.5h3M554.5 229v1M553 248.5h3M554.5 247v3M525 432.5h3M526.5 431v3M526.5 476v3M525 477.5h1M378 357.5h3M379.5 356v1M400.5 354v3M401 355.5h1M420 316.5h3M421.5 315v3M397 353.5h3M398.5 352v3M412 342.5h3M413.5 341v3M395 349.5h3M396.5 348v3M406 346.5h3M407.5 345v3M421.5 306v3M422 307.5h1M414 330.5h3M415.5 329v3M396 345.5h3M397.5 344v3M382 351.5h3M383.5 350v3M423.5 304v3M424 305.5h1M396 351.5h3M397.5 352v1M423 307.5h3M424.5 306v3M405.5 346v3M406 347.5h1M418.5 320v3M417 321.5h1M404 346.5h3M405.5 345v1M421 307.5h3M422.5 306v1M420 328.5h3M421.5 327v3M399 349.5h3M400.5 348v3M398 332.5h3M399.5 331v3M407 334.5h3M408.5 333v3M409 353.5h3M410.5 352v3M414.5 333v3M413 334.5h1M398 341.5h3M399.5 342v1M411 347.5h3M412.5 346v3M414 356.5h3M415.5 355v3M409 348.5h3M410.5 347v1M421.5 348v3M420 349.5h1M413.5 347v3M414 348.5h1M411 342.5h3M412.5 341v3M370.5 356v3M371 357.5h1M374 362.5h3M375.5 361v1M365 360.5h3M366.5 359v3M389 284.5h3M390.5 285v1M407 299.5h3M408.5 298v1M403.5 288v3M402 289.5h1"/>
<path class="pt" stroke="#ffeb00" d="M352 168.5h3M353.5 167v3M334 211.5h3M335.5 210v3M330 226.5h3M331.5 225v3M344 231.5h3M345.5 232v1M341 227.5h3M342.5 226v3M332.5 234v3M331 235.5h1M340 241.5h3M341.5 240v3M337 232.5h3M338.5 231v3M338.5 231v3M337 232.5h1M326 246.5h3M327.5 245v3M334 239.5h3M335.5 238v3M334.5 237v3M335 238.5h1M341 232.5h3M342.5 231v1M400 135.5h3M401.5 134v3M450.5 139v3M449 140.5h1M456.5 139v3M455 140.5h1M445 133.5h3M446.5 132v3M459.5 137v3M458 138.5h1M451 186.5h3M452.5 185v3M377 357.5h3M378.5 356v1M382.5 358v3M381 359.5h1M383 355.5h3M384.5 354v3M419 336.5h3M420.5 335v3M412 342.5h3M413.5 343v1M419 312.5h3M420.5 311v3M416 307.5h3M417.5 306v3M400 343.5h3M401.5 342v1M421 326.5h3M422.5 325v3M414 312.5h3M415.5 311v3M397.5 345v3M396 346.5h1M417.5 325v3M416 326.5h1M419 325.5h3M420.5 324v3M419 306.5h3M420.5 307v1M411 333.5h3M412.5 332v3M413 340.5h3M414.5 339v3M421 304.5h3M422.5 303v3M421 310.5h3M422.5 309v1M402 352.5h3M403.5 351v3M425 311.5h3M426.5 310v3M407.5 346v3M406 347.5h1M411 338.5h3M412.5 339v1M421 312.5h3M422.5 311v3M421 302.5h3M422.5 301v3M404.5 347v3M405 348.5h1M420 325.5h3M421.5 324v3M393 358.5h3M394.5 357v3M422 314.5h3M423.5 313v3M405 333.5h3M406.5 332v3M411 343.5h3M412.5 342v3M411 329.5h3M412.5 328v3M408.5 332v3M407 333.5h1M408 345.5h3M409.5 346v1M414 337.5h3M415.5 336v3M413 345.5h3M414.5 346v1M411 337.5h3M412.5 336v1M411 339.5h3M412.5 338v3M414 340.5h3M415.5 339v3M413 325.5h3M414.5 324v3M397 345.5h3M398.5 346v1M407 328.5h3M408.5 329v1M408 336.5h3M409.5 335v3M419 338.5h3M420.5 337v1M414.5 339v3M413 340.5h1M410.5 340v3M409 341.5h1M415 339.5h3M416.5 338v1M409.5 335v3M410 336.5h1M412 343.5h3M413.5 342v3M408 345.5h3M409.5 344v3M413 342.5h3M414.5 341v1M422.5 346v3M421 347.5h1M423 331.5h3M424.5 332v1M423.5 338v3M424 339.5h1M422 324.5h3M423.5 323v3M422 306.5h3M423.5 305v3M425 306.5h3M426.5 305v3M374 362.5h3M375.5 361v1M377.5 362v3M376 363.5h1M376 361.5h3M377.5 360v1M367 362.5h3M368.5 363v1M340 271.5h3M341.5 270v3M321.5 269v3M320 270.5h1M323.5 279v3M322 280.5h1M311.5 274v3M312 275.5h1"/>
<path class="pt" stroke="#ffcb00" d="M215 343.5h3M216.5 342v3M355.5 175v3M356 176.5h1M357 162.5h3M358.5 161v3M361 203.5h3M362.5 202v1M335 231.5h3M336.5 230v3M344 240.5h3M345.5 239v3M357 181.5h3M358.5 180v3M340 106.5h3M341.5 105v3M408 122.5h3M409.5 121v1M442.5 137v3M441 138.5h1M445 143.5h3M446.5 142v3M461.5 135v3M460 136.5h1M383 352.5h3M384.5 351v3M415 322.5h3M416.5 321v3M414.5 339v3M415 340.5h1M427 311.5h3M428.5 310v3M407 345.5h3M408.5 346v1M417 303.5h3M418.5 302v3M414 335.5h3M415.5 334v3M418 316.5h3M419.5 315v3M422 305.5h3M423.5 304v3M421.5 314v3M422 315.5h1M423 310.5h3M424.5 311v1M410 346.5h3M411.5 345v3M407 340.5h3M408.5 339v3M419 317.5h3M420.5 316v3M417 328.5h3M418.5 327v3M387 359.5h3M388.5 358v3M419 311.5h3M420.5 310v3M416.5 335v3M415 336.5h1M405.5 349v3M406 350.5h1M418 319.5h3M419.5 320v1M386 357.5h3M387.5 356v3M398 353.5h3M399.5 352v3M390 354.5h3M391.5 353v3M409 349.5h3M410.5 350v1M402.5 348v3M403 349.5h1M425 307.5h3M426.5 308v1M399 347.5h3M400.5 346v3M409 338.5h3M410.5 337v3M415.5 351v3M416 352.5h1M408 346.5h3M409.5 347v1M408 338.5h3M409.5 337v3M398 346.5h3M399.5 345v3M413 325.5h3M414.5 324v3M405 339.5h3M406.5 338v3M410.5 342v3M411 343.5h1M413.5 344v3M412 345.5h1M404 332.5h3M405.5 333v1M414 352.5h3M415.5 351v1M411 339.5h3M412.5 338v1M398.5 339v3M399 340.5h1M417.5 331v3M416 332.5h1M408 336.5h3M409.5 335v3M403 350.5h3M404.5 351v1M409 339.5h3M410.5 338v1M411.5 345v3M412 346.5h1M410.5 338v3M409 339.5h1M413.5 349v3M412 350.5h1M423 329.5h3M424.5 328v3M423 340.5h3M424.5 339v1M424.5 303v3M423 304.5h1M423.5 345v3M422 346.5h1M422 345.5h3M423.5 344v3"/>
<path class="pt" stroke="#ffaa00" d="M324 195.5h3M325.5 194v3M339.5 234v3M338 235.5h1M341 232.5h3M342.5 231v3M334 245.5h3M335.5 244v1M356 201.5h3M357.5 200v3M357 178.5h3M358.5 177v1M397 111.5h3M398.5 110v1M390 137.5h3M391.5 136v3M400 127.5h3M401.5 126v3M397 121.5h3M398.5 120v3M393 135.5h3M394.5 134v3M396 115.5h3M397.5 116v1M394 133.5h3M395.5 134v1M525 97.5h3M526.5 96v3M504.5 151v3M505 152.5h1M568.5 275v3M567 276.5h1M426.5 267v3M427 268.5h1M413 342.5h3M414.5 341v3M417 317.5h3M418.5 316v1M419.5 318v3M418 319.5h1M395 355.5h3M396.5 354v3M418.5 336v3M419 337.5h1M398 349.5h3M399.5 348v3M410 331.5h3M411.5 332v1M411 349.5h3M412.5 348v3M401 349.5h3M402.5 348v3M409 335.5h3M410.5 334v3M406.5 344v3M407 345.5h1M400 344.5h3M401.5 343v3M416.5 332v3M415 333.5h1M407 328.5h3M408.5 327v3M427 346.5h3M428.5 345v3M411 341.5h3M412.5 340v3M408.5 335v3M407 336.5h1M394 341.5h3M395.5 342v1M406.5 355v3M407 356.5h1M411.5 343v3M412 344.5h1M412.5 330v3M411 331.5h1M426.5 342v3M425 343.5h1M415.5 340v3M414 341.5h1M399.5 344v3M400 345.5h1M425.5 328v3M426 329.5h1M423 313.5h3M424.5 312v3M447 353.5h3M448.5 354v1M452 349.5h3M453.5 348v1M453 348.5h3M454.5 349v1M329.5 261v3M330 262.5h1"/>
<path class="pt" stroke="#ff8a00" d="M364 176.5h3M365.5 175v3M343 192.5h3M344.5 191v3M351 224.5h3M352.5 223v3M327 241.5h3M328.5 240v1M328.5 247v3M329 248.5h1M359.5 203v3M358 204.5h1M359 190.5h3M360.5 189v1M355.5 188v3M354 189.5h1M375 243.5h3M376.5 242v3M370 232.5h3M371.5 231v3M336 91.5h3M337.5 90v3M366 96.5h3M367.5 95v3M364 103.5h3M365.5 102v3M365 105.5h3M366.5 104v3M365 110.5h3M366.5 109v3M359.5 134v3M358 135.5h1M377.5 120v3M378 121.5h1M380 129.5h3M381.5 128v3M377 138.5h3M378.5 137v3M385 142.5h3M386.5 141v1M389 137.5h3M390.5 136v3M396 117.5h3M397.5 116v1M396 121.5h3M397.5 120v1M402.5 122v3M401 123.5h1M406.5 123v3M407 124.5h1M410 119.5h3M411.5 118v3M449.5 138v3M448 139.5h1M434 136.5h3M435.5 135v1M439 131.5h3M440.5 130v3M403 201.5h3M404.5 200v3M403 212.5h3M404.5 211v3M405 217.5h3M406.5 216v3M514.5 101v3M513 102.5h1M567 157.5h3M568.5 156v3M567 190.5h3M568.5 189v1M567 252.5h3M568.5 251v3M567 334.5h3M568.5 333v3M504.5 409v3M503 410.5h1M377 356.5h3M378.5 357v1M417.5 318v3M418 319.5h1M415.5 319v3M416 320.5h1M399 352.5h3M400.5 351v3M414.5 334v3M415 335.5h1M395 351.5h3M396.5 352v1M418 309.5h3M419.5 310v1M398.5 343v3M399 344.5h1M399.5 339v3M400 340.5h1M423 315.5h3M424.5 314v3M348 291.5h3M349.5 290v1M327.5 262v3M328 263.5h1"/>
<path class="pt" stroke="#ff6a00" d="M314 151.5h3M315.5 150v3M323.5 236v3M324 237.5h1M318 244.5h3M319.5 245v1M357 211.5h3M358.5 210v3M357 183.5h3M358.5 182v3M359 213.5h3M360.5 214v1M396 130.5h3M397.5 129v3M394.5 137v3M393 138.5h1M410 114.5h3M411.5 113v3M449.5 133v3M450 134.5h1M448 123.5h3M449.5 122v3M449 137.5h3M450.5 136v3M427 140.5h3M428.5 139v3M446 144.5h3M447.5 143v3M439 136.5h3M440.5 135v3M397 351.5h3M398.5 350v3M427 317.5h3M428.5 316v3M428.5 310v3M429 311.5h1M401 347.5h3M402.5 348v1M413.5 340v3M412 341.5h1M406 349.5h3M407.5 350v1M414 335.5h3M415.5 334v3M410.5 348v3M411 349.5h1M401 336.5h3M402.5 337v1M403 341.5h3M404.5 340v3M412 345.5h3M413.5 346v1M397 304.5h3M398.5 303v3M460.5 343v3M459 344.5h1"/>
<path class="pt" stroke="#ff4900" d="M247 364.5h3M248.5 363v3M332.5 194v3M331 195.5h1M355 170.5h3M356.5 171v1M358 170.5h3M359.5 169v1M394.5 117v3M395 118.5h1M392 124.5h3M393.5 123v3M401.5 124v3M400 125.5h1M395.5 133v3M394 134.5h1M443 140.5h3M444.5 141v1M449 137.5h3M450.5 138v1M443.5 140v3M442 141.5h1M431 134.5h3M432.5 133v3M566 96.5h3M567.5 95v3M503 385.5h3M504.5 384v1M513 478.5h3M514.5 477v3M412.5 395v3M411 396.5h1M424.5 335v3M425 336.5h1M403 297.5h3M404.5 296v3"/>
<path class="pt" stroke="#ff2900" d="M308 153.5h3M309.5 152v3M309 187.5h3M310.5 186v3M399 122.5h3M400.5 121v3M403 136.5h3M404.5 135v3M442 139.5h3M443.5 138v3M453 134.5h3M454.5 133v3M450 140.5h3M451.5 139v3M450 135.5h3M451.5 134v3M446 132.5h3M447.5 133v1M441 134.5h3M442.5 133v3M453 152.5h3M454.5 151v3M440 140.5h3M441.5 139v3"/>
<path class="pt" stroke="#ff0900" d="M404 138.5h3M405.5 137v1M459 128.5h3M460.5 127v3M400 305.5h3M401.5 304v3"/>
<path class="pt" stroke="#ff0000" d="M329.5 176v3M330 177.5h1M379.5 179v3M378 180.5h1M373 139.5h3M374.5 138v1M394.5 133v3M393 134.5h1M394 113.5h3M395.5 114v1M405 128.5h3M406.5 127v3M438 137.5h3M439.5 136v3M440.5 140v3M439 141.5h1M437 129.5h3M438.5 128v1M439 143.5h3M440.5 142v3M414.5 140v3M413 141.5h1M421 141.5h3M422.5 140v3M425 139.5h3M426.5 138v1M429 136.5h3M430.5 137v1M403 83.5h3M404.5 84v1M567.5 103v3M568 104.5h1M568.5 161v3M569 162.5h1"/>
<path class="pt" stroke="#ff0000" d="M373.5 203v3M374 204.5h1M453 146.5h3M454.5 145v3M443.5 143v3M442 144.5h1M442.5 137v3M441 138.5h1M433.5 138v3M434 139.5h1M447 139.5h3M448.5 138v3M444.5 125v3M443 126.5h1M444 139.5h3M445.5 138v3M440 134.5h3M441.5 133v3M449 133.5h3M450.5 132v3"/>
<path class="pt" stroke="#ff0000" d="M361.5 175v3M362 176.5h1M354 201.5h3M355.5 200v3M439 134.5h3M440.5 133v3"/>
<path class="pt" stroke="#ff0000" d="M442 129.5h3M443.5 128v1"/>
<path class="ln" d="M80 59.5H681M80 60.5H681M80 539.5H681M80.5 59V540M680.5 59V540M230.5 60V540M380.5 60V540M467.5 60V540M530.5 60V540M578.5 60V540M80 480.5H680M80 335.5H680M80 251.5H680M80 191.5H680M80 144.5H680M80 106.5H680M110.5 532V540M110.5 59V69M140.5 532V540M140.5 59V69M170.5 532V540M170.5 59V69M200.5 532V540M200.5 59V69M260.5 532V540M260.5 59V69M290.5 532V540M290.5 59V69M320.5 532V540M320.5 59V69M350.5 532V540M350.5 59V69M397.5 532V540M397.5 59V69M415.5 532V540M415.5 59V69M432.5 532V540M432.5 59V69M450.5 532V540M450.5 59V69M480.5 532V540M480.5 59V69M492.5 532V540M492.5 59V69M505.5 532V540M505.5 59V69M517.5 532V540M517.5 59V69M539.5 532V540M539.5 59V69M549.5 532V540M549.5 59V69M558.5 532V540M558.5 59V69M568.5 532V540M568.5 59V69M598.5 532V540M598.5 59V69M618.5 532V540M618.5 59V69M639.5 532V540M639.5 59V69M659.5 532V540M659.5 59V69M80 528.5H89M671 528.5H680M80 516.5H89M671 516.5H680M80 504.5H89M671 504.5H680M80 492.5H89M671 492.5H680M80 451.5H89M671 451.5H680M80 422.5H89M671 422.5H680M80 393.5H89M671 393.5H680M80 364.5H89M671 364.5H680M80 318.5H89M671 318.5H680M80 301.5H89M671 301.5H680M80 284.5H89M671 284.5H680M80 267.5H89M671 267.5H680M80 239.5H89M671 239.5H680M80 227.5H89M671 227.5H680M80 215.5H89M671 215.5H680M80 203.5H89M671 203.5H680M80 181.5H89M671 181.5H680M80 172.5H89M671 172.5H680M80 163.5H89M671 163.5H680M80 153.5H89M671 153.5H680M80 136.5H89M671 136.5H680M80 129.5H89M671 129.5H680M80 121.5H89M671 121.5H680M80 114.5H89M671 114.5H680M80 97.5H89M671 97.5H680M80 87.5H89M671 87.5H680M80 78.5H89M671 78.5H680M80 69.5H89M671 69.5H680"/>
<rect x="719" y="87" width="26" height="424" fill="url(#cb)" shape-rendering="crispEdges"/>
<g filter="url(#nf)">
<text x="252" y="39.8" font-size="12.3" textLength="45.5" lengthAdjust="spacing">Tromsø</text>
<text x="306.3" y="39.8" font-size="12.3" textLength="66.5" lengthAdjust="spacing">20170709</text>
<text x="382" y="39.8" font-size="12.3" textLength="126" lengthAdjust="spacing">19:58:00&#8722;19:59:43</text>
<text x="333" y="52" font-size="12.3" textLength="58.5" lengthAdjust="spacing">RwPretec</text>
<text x="400.5" y="52" font-size="12.3" textLength="26.5" lengthAdjust="spacing">(8p)</text>
<text x="631.5" y="31.5" font-size="8.6" textLength="33" lengthAdjust="spacing">Phases</text>
<text x="608.5" y="42.3" font-size="8.6" textLength="117" lengthAdjust="spacing" xml:space="preserve">mean, sd,O: &#8722;85.6, 20.3</text>
<text x="608.5" y="54" font-size="8.6" textLength="113.5" lengthAdjust="spacing" xml:space="preserve">mean, sd,X:  98.2, 25.2</text>
<text x="76.4" y="66.8" font-size="11.2" text-anchor="end" textLength="19.6" lengthAdjust="spacing">750</text>
<text x="76.4" y="111.3" font-size="11.2" text-anchor="end" textLength="19.6" lengthAdjust="spacing">600</text>
<text x="76.4" y="149.2" font-size="11.2" text-anchor="end" textLength="19.6" lengthAdjust="spacing">500</text>
<text x="76.4" y="195.8" font-size="11.2" text-anchor="end" textLength="19.6" lengthAdjust="spacing">400</text>
<text x="76.4" y="255.5" font-size="11.2" text-anchor="end" textLength="19.6" lengthAdjust="spacing">300</text>
<text x="76.4" y="340.2" font-size="11.2" text-anchor="end" textLength="19.6" lengthAdjust="spacing">200</text>
<text x="76.4" y="484.5" font-size="11.2" text-anchor="end" textLength="19.6" lengthAdjust="spacing">100</text>
<text x="76.4" y="540" font-size="11.2" text-anchor="end" textLength="12.6" lengthAdjust="spacing">75</text>
<text x="80" y="555" font-size="11.2" text-anchor="middle">1</text>
<text x="230" y="555" font-size="11.2" text-anchor="middle">2</text>
<text x="380" y="555" font-size="11.2" text-anchor="middle">4</text>
<text x="467" y="555" font-size="11.2" text-anchor="middle">6</text>
<text x="530" y="555" font-size="11.2" text-anchor="middle">8</text>
<text x="578" y="555" font-size="11.2" text-anchor="middle">10</text>
<text x="680" y="555" font-size="11.2" text-anchor="middle">16</text>
<text x="335.5" y="567.3" font-size="10.6" textLength="88.5" lengthAdjust="spacing">Frequency [MHz]</text>
<text transform="translate(46.8,398.5) rotate(-90)" font-size="10.6" textLength="195.5" lengthAdjust="spacing">Stationary phase Virtual Height [km]</text>
<text x="717.5" y="84.4" font-size="13" textLength="34" lengthAdjust="spacing">[deg]</text>
<text x="747.5" y="188" font-size="11.2" textLength="19.6" lengthAdjust="spacing">100</text>
<text x="747.5" y="304" font-size="11.2">0</text>
<text x="747.5" y="421.3" font-size="11.2" textLength="27.8" lengthAdjust="spacing">&#8722;100</text>
</g>
</svg></body></html>
